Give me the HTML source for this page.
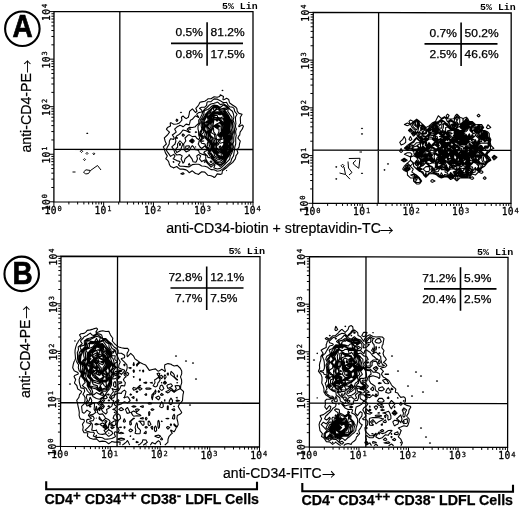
<!DOCTYPE html><html><head><meta charset="utf-8"><title>Figure</title><style>
html,body{margin:0;padding:0;background:#fff}
svg{display:block}
text{font-family:"Liberation Sans",sans-serif;fill:#000}
.tk{font-family:"DejaVu Sans Mono","Liberation Mono",monospace;font-size:9.6px;letter-spacing:0.4px;stroke:#000;stroke-width:0.3px}
.tks{font-family:"DejaVu Sans Mono","Liberation Mono",monospace;font-size:7px;stroke:#000;stroke-width:0.25px}
.pc{font-size:10.6px;stroke:#000;stroke-width:0.25px}
.lin{font-family:"Liberation Mono",monospace;font-size:9.5px;font-weight:bold}
.big{font-size:31px;font-weight:bold;stroke:#000;stroke-width:0.7px}
.ax{font-size:14px;stroke:#000;stroke-width:0.2px}
.arw{font-size:13.6px;font-family:"Noto Sans CJK JP","DejaVu Math TeX Gyre",sans-serif}
.bl{font-size:14.3px;font-weight:bold;stroke:#000;stroke-width:0.25px}
.bl .sp{font-size:13.5px}
</style></head><body><svg width="520" height="508" viewBox="0 0 520 508">
<rect width="520" height="508" fill="#fff"/>
<path d="M54 11.6L253 11.6L253 202.1L53.9 201.8Z" fill="none" stroke="#000" stroke-width="1.3"/>
<path d="M119.83 11.6L119.77 201.9M53.93 149.29L253 149.51" stroke="#000" stroke-width="1.3" fill="none"/>
<path d="M53.9 201.8v4.4M53.9 201.8h-4.4M68.88 201.82v2.6M53.91 187.49h-2.6M77.65 201.84v2.6M53.91 179.11h-2.6M83.87 201.85v2.6M53.92 173.17h-2.6M88.69 201.85v2.6M53.92 168.56h-2.6M92.63 201.86v2.6M53.92 164.8h-2.6M95.96 201.86v2.6M53.92 161.62h-2.6M98.85 201.87v2.6M53.92 158.86h-2.6M101.4 201.87v2.6M53.92 156.43h-2.6M103.67 201.88v4.4M53.92 154.25h-4.4M118.66 201.9v2.6M53.93 139.94h-2.6M127.42 201.91v2.6M53.94 131.56h-2.6M133.64 201.92v2.6M53.94 125.62h-2.6M138.47 201.93v2.6M53.94 121.01h-2.6M142.41 201.93v2.6M53.94 117.25h-2.6M145.74 201.94v2.6M53.95 114.07h-2.6M148.63 201.94v2.6M53.95 111.31h-2.6M151.17 201.95v2.6M53.95 108.88h-2.6M153.45 201.95v4.4M53.95 106.7h-4.4M168.43 201.97v2.6M53.96 92.39h-2.6M177.2 201.99v2.6M53.96 84.01h-2.6M183.42 202v2.6M53.97 78.07h-2.6M188.24 202v2.6M53.97 73.46h-2.6M192.18 202.01v2.6M53.97 69.7h-2.6M195.51 202.01v2.6M53.97 66.52h-2.6M198.4 202.02v2.6M53.97 63.76h-2.6M200.95 202.02v2.6M53.97 61.33h-2.6M203.22 202.02v4.4M53.98 59.15h-4.4M218.21 202.05v2.6M53.98 44.84h-2.6M226.97 202.06v2.6M53.99 36.46h-2.6M233.19 202.07v2.6M53.99 30.52h-2.6M238.02 202.08v2.6M53.99 25.91h-2.6M241.96 202.08v2.6M53.99 22.15h-2.6M245.29 202.09v2.6M54 18.97h-2.6M248.18 202.09v2.6M54 16.21h-2.6M250.72 202.1v2.6M54 13.78h-2.6M253 202.1v4.4M54 11.6h-4.4" stroke="#000" stroke-width="1" fill="none"/>
<text class="tk" x="44.6" y="213.5">10</text><text class="tks" x="57.5" y="211.1">0</text>
<g transform="translate(49.6 211.1) rotate(-90)"><text class="tk" x="0" y="0">10</text><text class="tks" x="12.9" y="-3">0</text></g>
<text class="tk" x="94.4" y="213.6">10</text><text class="tks" x="107.3" y="211.2">1</text>
<g transform="translate(49.6 163.6) rotate(-90)"><text class="tk" x="0" y="0">10</text><text class="tks" x="12.9" y="-3">1</text></g>
<text class="tk" x="144.1" y="213.6">10</text><text class="tks" x="157" y="211.2">2</text>
<g transform="translate(49.7 116) rotate(-90)"><text class="tk" x="0" y="0">10</text><text class="tks" x="12.9" y="-3">2</text></g>
<text class="tk" x="193.9" y="213.7">10</text><text class="tks" x="206.8" y="211.3">3</text>
<g transform="translate(49.7 68.5) rotate(-90)"><text class="tk" x="0" y="0">10</text><text class="tks" x="12.9" y="-3">3</text></g>
<text class="tk" x="243.7" y="213.8">10</text><text class="tks" x="256.6" y="211.4">4</text>
<g transform="translate(49.7 20.9) rotate(-90)"><text class="tk" x="0" y="0">10</text><text class="tks" x="12.9" y="-3">4</text></g>
<path d="M313.25 12.4L511.2 13L511 203.4L312.7 203.3Z" fill="none" stroke="#000" stroke-width="1.3"/>
<path d="M378.62 12.6L378.18 203.33M312.85 150.18L511.06 150.42" stroke="#000" stroke-width="1.3" fill="none"/>
<path d="M312.7 203.3v4.4M312.7 203.3h-4.4M327.62 203.31v2.6M312.74 188.93h-2.6M336.35 203.31v2.6M312.77 180.53h-2.6M342.55 203.32v2.6M312.78 174.57h-2.6M347.35 203.32v2.6M312.8 169.94h-2.6M351.28 203.32v2.6M312.81 166.16h-2.6M354.6 203.32v2.6M312.82 162.97h-2.6M357.47 203.32v2.6M312.82 160.2h-2.6M360.01 203.32v2.6M312.83 157.76h-2.6M362.27 203.33v4.4M312.84 155.58h-4.4M377.2 203.33v2.6M312.88 141.21h-2.6M385.93 203.34v2.6M312.9 132.8h-2.6M392.12 203.34v2.6M312.92 126.84h-2.6M396.93 203.34v2.6M312.93 122.22h-2.6M400.85 203.34v2.6M312.94 118.44h-2.6M404.17 203.35v2.6M312.95 115.24h-2.6M407.05 203.35v2.6M312.96 112.48h-2.6M409.58 203.35v2.6M312.97 110.03h-2.6M411.85 203.35v4.4M312.98 107.85h-4.4M426.77 203.36v2.6M313.02 93.48h-2.6M435.5 203.36v2.6M313.04 85.08h-2.6M441.7 203.37v2.6M313.06 79.12h-2.6M446.5 203.37v2.6M313.07 74.49h-2.6M450.43 203.37v2.6M313.08 70.71h-2.6M453.75 203.37v2.6M313.09 67.52h-2.6M456.62 203.37v2.6M313.1 64.75h-2.6M459.16 203.37v2.6M313.11 62.31h-2.6M461.43 203.38v4.4M313.11 60.12h-4.4M476.35 203.38v2.6M313.15 45.76h-2.6M485.08 203.39v2.6M313.18 37.35h-2.6M491.27 203.39v2.6M313.2 31.39h-2.6M496.08 203.39v2.6M313.21 26.77h-2.6M500 203.39v2.6M313.22 22.99h-2.6M503.32 203.4v2.6M313.23 19.79h-2.6M506.2 203.4v2.6M313.24 17.03h-2.6M508.73 203.4v2.6M313.24 14.58h-2.6M511 203.4v4.4M313.25 12.4h-4.4" stroke="#000" stroke-width="1" fill="none"/>
<text class="tk" x="303.4" y="215">10</text><text class="tks" x="316.3" y="212.6">0</text>
<g transform="translate(308.4 212.6) rotate(-90)"><text class="tk" x="0" y="0">10</text><text class="tks" x="12.9" y="-3">0</text></g>
<text class="tk" x="353" y="215">10</text><text class="tks" x="365.9" y="212.6">1</text>
<g transform="translate(308.5 164.9) rotate(-90)"><text class="tk" x="0" y="0">10</text><text class="tks" x="12.9" y="-3">1</text></g>
<text class="tk" x="402.6" y="215.1">10</text><text class="tks" x="415.5" y="212.7">2</text>
<g transform="translate(308.7 117.2) rotate(-90)"><text class="tk" x="0" y="0">10</text><text class="tks" x="12.9" y="-3">2</text></g>
<text class="tk" x="452.1" y="215.1">10</text><text class="tks" x="465" y="212.7">3</text>
<g transform="translate(308.8 69.4) rotate(-90)"><text class="tk" x="0" y="0">10</text><text class="tks" x="12.9" y="-3">3</text></g>
<text class="tk" x="501.7" y="215.1">10</text><text class="tks" x="514.6" y="212.7">4</text>
<g transform="translate(308.9 21.7) rotate(-90)"><text class="tk" x="0" y="0">10</text><text class="tks" x="12.9" y="-3">4</text></g>
<path d="M61 256.25L260 256.55L259.5 447L60.5 446.4Z" fill="none" stroke="#000" stroke-width="1.3"/>
<path d="M117.55 256.34L117.05 446.57M60.61 402.73L259.61 403.27" stroke="#000" stroke-width="1.3" fill="none"/>
<path d="M60.5 446.4v4.4M60.5 446.4h-4.4M75.48 446.45v2.6M60.54 432.09h-2.6M84.24 446.47v2.6M60.56 423.72h-2.6M90.45 446.49v2.6M60.58 417.78h-2.6M95.27 446.5v2.6M60.59 413.17h-2.6M99.21 446.52v2.6M60.6 409.41h-2.6M102.54 446.53v2.6M60.61 406.23h-2.6M105.43 446.54v2.6M60.61 403.47h-2.6M107.97 446.54v2.6M60.62 401.04h-2.6M110.25 446.55v4.4M60.62 398.86h-4.4M125.23 446.6v2.6M60.66 384.55h-2.6M133.99 446.62v2.6M60.68 376.18h-2.6M140.2 446.64v2.6M60.7 370.24h-2.6M145.02 446.65v2.6M60.71 365.64h-2.6M148.96 446.67v2.6M60.72 361.87h-2.6M152.29 446.68v2.6M60.73 358.69h-2.6M155.18 446.69v2.6M60.74 355.93h-2.6M157.72 446.69v2.6M60.74 353.5h-2.6M160 446.7v4.4M60.75 351.32h-4.4M174.98 446.75v2.6M60.79 337.01h-2.6M183.74 446.77v2.6M60.81 328.64h-2.6M189.95 446.79v2.6M60.83 322.7h-2.6M194.77 446.8v2.6M60.84 318.1h-2.6M198.71 446.82v2.6M60.85 314.33h-2.6M202.04 446.83v2.6M60.86 311.15h-2.6M204.93 446.84v2.6M60.86 308.39h-2.6M207.47 446.84v2.6M60.87 305.96h-2.6M209.75 446.85v4.4M60.88 303.79h-4.4M224.73 446.9v2.6M60.91 289.48h-2.6M233.49 446.92v2.6M60.93 281.11h-2.6M239.7 446.94v2.6M60.95 275.17h-2.6M244.52 446.95v2.6M60.96 270.56h-2.6M248.46 446.97v2.6M60.97 266.8h-2.6M251.79 446.98v2.6M60.98 263.61h-2.6M254.68 446.99v2.6M60.99 260.86h-2.6M257.22 446.99v2.6M60.99 258.43h-2.6M259.5 447v4.4M61 256.25h-4.4" stroke="#000" stroke-width="1" fill="none"/>
<text class="tk" x="51.2" y="458.1">10</text><text class="tks" x="64.1" y="455.7">0</text>
<g transform="translate(56.2 455.7) rotate(-90)"><text class="tk" x="0" y="0">10</text><text class="tks" x="12.9" y="-3">0</text></g>
<text class="tk" x="101" y="458.2">10</text><text class="tks" x="113.8" y="455.8">1</text>
<g transform="translate(56.3 408.2) rotate(-90)"><text class="tk" x="0" y="0">10</text><text class="tks" x="12.9" y="-3">1</text></g>
<text class="tk" x="150.7" y="458.4">10</text><text class="tks" x="163.6" y="456">2</text>
<g transform="translate(56.5 360.6) rotate(-90)"><text class="tk" x="0" y="0">10</text><text class="tks" x="12.9" y="-3">2</text></g>
<text class="tk" x="200.4" y="458.6">10</text><text class="tks" x="213.3" y="456.2">3</text>
<g transform="translate(56.6 313.1) rotate(-90)"><text class="tk" x="0" y="0">10</text><text class="tks" x="12.9" y="-3">3</text></g>
<text class="tk" x="250.2" y="458.7">10</text><text class="tks" x="263.1" y="456.3">4</text>
<g transform="translate(56.7 265.6) rotate(-90)"><text class="tk" x="0" y="0">10</text><text class="tks" x="12.9" y="-3">4</text></g>
<path d="M309.5 256.6L508 257.4L507.6 447.4L309.4 447Z" fill="none" stroke="#000" stroke-width="1.3"/>
<path d="M365.99 256.83L365.81 447.11M309.42 403.15L507.69 403.65" stroke="#000" stroke-width="1.3" fill="none"/>
<path d="M309.4 447v4.4M309.4 447h-4.4M324.32 447.03v2.6M309.41 432.67h-2.6M333.04 447.05v2.6M309.41 424.29h-2.6M339.23 447.06v2.6M309.42 418.34h-2.6M344.03 447.07v2.6M309.42 413.73h-2.6M347.96 447.08v2.6M309.42 409.96h-2.6M351.27 447.08v2.6M309.42 406.77h-2.6M354.15 447.09v2.6M309.42 404.01h-2.6M356.68 447.1v2.6M309.42 401.58h-2.6M358.95 447.1v4.4M309.42 399.4h-4.4M373.87 447.13v2.6M309.43 385.07h-2.6M382.59 447.15v2.6M309.44 376.69h-2.6M388.78 447.16v2.6M309.44 370.74h-2.6M393.58 447.17v2.6M309.44 366.13h-2.6M397.51 447.18v2.6M309.44 362.36h-2.6M400.82 447.18v2.6M309.45 359.17h-2.6M403.7 447.19v2.6M309.45 356.41h-2.6M406.23 447.2v2.6M309.45 353.98h-2.6M408.5 447.2v4.4M309.45 351.8h-4.4M423.42 447.23v2.6M309.46 337.47h-2.6M432.14 447.25v2.6M309.46 329.09h-2.6M438.33 447.26v2.6M309.47 323.14h-2.6M443.13 447.27v2.6M309.47 318.53h-2.6M447.06 447.28v2.6M309.47 314.76h-2.6M450.37 447.28v2.6M309.47 311.57h-2.6M453.25 447.29v2.6M309.47 308.81h-2.6M455.78 447.3v2.6M309.47 306.38h-2.6M458.05 447.3v4.4M309.48 304.2h-4.4M472.97 447.33v2.6M309.48 289.87h-2.6M481.69 447.35v2.6M309.49 281.49h-2.6M487.88 447.36v2.6M309.49 275.54h-2.6M492.68 447.37v2.6M309.49 270.93h-2.6M496.61 447.38v2.6M309.49 267.16h-2.6M499.92 447.38v2.6M309.5 263.97h-2.6M502.8 447.39v2.6M309.5 261.21h-2.6M505.33 447.4v2.6M309.5 258.78h-2.6M507.6 447.4v4.4M309.5 256.6h-4.4" stroke="#000" stroke-width="1" fill="none"/>
<text class="tk" x="300.1" y="458.7">10</text><text class="tks" x="313" y="456.3">0</text>
<g transform="translate(305.1 456.3) rotate(-90)"><text class="tk" x="0" y="0">10</text><text class="tks" x="12.9" y="-3">0</text></g>
<text class="tk" x="349.6" y="458.8">10</text><text class="tks" x="362.6" y="456.4">1</text>
<g transform="translate(305.1 408.7) rotate(-90)"><text class="tk" x="0" y="0">10</text><text class="tks" x="12.9" y="-3">1</text></g>
<text class="tk" x="399.2" y="458.9">10</text><text class="tks" x="412.1" y="456.5">2</text>
<g transform="translate(305.1 361.1) rotate(-90)"><text class="tk" x="0" y="0">10</text><text class="tks" x="12.9" y="-3">2</text></g>
<text class="tk" x="448.8" y="459">10</text><text class="tks" x="461.7" y="456.6">3</text>
<g transform="translate(305.2 313.5) rotate(-90)"><text class="tk" x="0" y="0">10</text><text class="tks" x="12.9" y="-3">3</text></g>
<text class="tk" x="498.3" y="459.1">10</text><text class="tks" x="511.2" y="456.7">4</text>
<g transform="translate(305.2 265.9) rotate(-90)"><text class="tk" x="0" y="0">10</text><text class="tks" x="12.9" y="-3">4</text></g>
<path d="M214.1 177.6L213.3 176.7L211 175.7L207.9 175.3L206.5 173.8L204.8 172.1L201.7 171.8L199.1 173.8L198.6 174.4L196.8 173.8L195.5 173.5L192.3 170.8L189.2 172.7L187.5 170.8L186.1 169.9L183 169.1L179.9 169.1L178.1 167.8L176.8 166.5L173.8 167.8L173.7 168.1L173.6 167.8L170.6 166.5L169.5 164.8L168.7 161.8L167.5 160.1L165.8 158.8L167.3 155.9L165.4 152.9L164.5 149.9L164.4 149L163.3 146.9L164.4 145.9L166.4 144L165.1 141L164.4 138.2L164.3 138L164.4 137.9L167.4 135L167.5 135L169.5 132.1L167.5 130.4L166.4 129.1L167.5 127.6L170.5 126.1L170.2 123.1L170.6 122.7L171.7 123.1L173.7 124.3L176.8 124L178.8 123.2L179.9 122.5L181.9 120.2L181.4 117.2L183 116L184.3 117.2L186.1 118.6L188.4 117.2L189.2 114.2L189.2 113.9L189.6 111.3L192.4 108.9L194.6 111.3L195.5 112.5L197 111.3L195.8 108.3L198.4 105.3L198.6 105L200 102.3L201.7 101.9L204.8 101.2L207.5 99.4L207.9 98.7L211 98.7L214.1 96.8L217.2 97.2L219.7 96.4L220.3 94.8L223.5 96.4L223.5 96.4L223.5 96.7L222.9 99.4L223.5 99.7L224.4 99.4L226.6 98.3L228.7 99.4L229.4 102.4L229.7 103L232.8 105.3L232.9 105.3L235.9 107.3L236.8 108.3L237.3 111.3L239 113.4L242.1 114.2L242.1 114.3L242.1 114.3L240.3 117.3L240.4 120.2L240.6 123.2L239 125.5L238.7 126.2L239 126.7L239.9 126.2L242.1 124.9L243.4 126.2L242.2 129.2L242.1 129.3L240.1 132.1L239.7 135.1L239 135.7L237.9 138.1L239 139.5L240.3 141.1L239.5 144L239.1 147L239 147.1L237 150L237.9 153L235.9 155.9L235.9 156.3L235.3 158.9L233.1 161.9L232.8 162.4L229.7 164.7L229.5 164.9L226.6 167.7L226.4 167.8L223.4 170L222.4 170.8L222 173.8L220.3 174.4L217.2 173.9L215.3 176.7L214.1 177.6M176.8 121.7L176 120.2L176.8 119.1L177.9 120.2L176.8 121.7M174.1 161.8L173.7 161.6L173.1 161.8L173.7 162.3L174.1 161.8M226.6 170.9L226.5 170.8L226.6 170.5L226.6 170.8L226.6 170.9M183 174.4L180.8 173.7L183 172.7L184.1 173.7L183 174.4M217.2 171.3L216.4 170.8L214.1 169.7L211 169.6L208.2 167.8L207.9 167.3L204.8 166.2L201.7 166L199.8 164.8L198.6 164.2L195.5 164.3L192.3 164.6L192.2 164.8L189.2 166.9L186.1 166.6L183 166.3L179.9 166.2L178.4 164.8L179.9 162.2L180.1 161.8L179.9 161.5L176.8 160.6L173.7 159.1L173.1 158.8L173.7 158.3L175 155.9L173.7 154.4L171.2 155.9L170.6 156.4L170.2 155.9L168.1 152.9L167.5 152.2L166.3 149.9L167.4 146.9L167.5 146.9L169.2 144L169.4 141L170.6 138.8L173.7 139.4L174.1 138L173.7 136.8L172.3 135L173.7 134L176.2 132.1L174.6 129.1L176.8 127.1L178.7 126.1L179.9 125.3L181.9 126.1L183 126.7L183.9 126.1L186.1 124.1L189.2 124.9L189.7 123.2L190.4 120.2L192.3 119.3L194.2 117.2L195.5 115.8L198.2 117.2L198.6 117.5L198.7 117.2L198.6 117L196.7 114.2L198.6 112.6L201.7 112L202 111.3L201.7 110.1L199.5 108.3L201.7 107.3L204.8 107.1L206.6 105.3L207 102.4L207.9 101.8L211 101.6L213.5 99.4L214.1 98.9L217.2 99.1L217.8 99.4L220.3 100.8L223.1 102.4L223.5 102.5L225.9 102.4L226.6 102.3L226.6 102.4L228.1 105.3L229.7 106.7L232.8 107.3L234 108.3L234.7 111.3L235.9 112.9L237.1 114.3L235.9 116.2L235.5 117.3L235.5 120.2L235.9 122.9L236 123.2L235.9 123.4L235.4 126.2L235.9 128.3L236.4 129.2L235.9 130.1L235.6 132.1L235.9 134.2L236.3 135.1L235.9 136.9L235.7 138.1L235.7 141.1L235.7 144L234.8 147L234.5 150L234 153L233.5 155.9L232.8 157L231.7 158.9L230.8 161.9L229.7 162.9L227.4 164.9L226.6 165.7L224.2 167.8L223.4 168.4L220.3 170.6L219.5 170.8L217.2 171.3M205 161.9L204.8 161.6L204.3 161.9L204.8 162.4L205 161.9M220.3 168.4L217.2 169L214.1 167.9L213.8 167.8L214.1 167.4L215 164.8L214.1 164.6L213.7 164.8L211 167.2L208.9 164.8L207.9 163.9L206.2 161.9L204.8 160L201.7 161.6L199.5 158.9L200.7 155.9L198.6 154.5L196.7 155.9L197.5 158.9L196.3 161.8L195.5 162.3L193.1 161.8L192.3 159.8L192 158.9L189.7 155.9L189.2 154.6L188.6 155.9L186.1 157.8L185 158.9L184.2 161.8L183 163.2L182.5 161.8L181.1 158.9L182.2 155.9L179.9 154.5L176.8 155L174.8 152.9L173.9 149.9L173.7 149.4L171.8 146.9L173.7 145.1L175 144L175.9 141L175.3 138L176.8 135.7L178.2 135.1L179.9 133.8L181.4 132.1L183 130L186.1 130.7L188.5 132.1L189.2 132.5L190.3 132.1L189.2 131.7L187.2 129.1L189.2 127.4L192.3 127.5L195.5 126.7L195.6 126.1L198.6 123.5L198.8 123.2L198.7 120.2L200.6 117.2L201.7 115L202 114.2L203.1 111.3L204.8 108.9L206.2 108.3L207.9 106.5L209 105.3L211 104L214.1 103.2L216.6 102.4L217.2 102L218 102.4L220.3 104.6L223.5 103.8L225.8 105.3L226.6 105.7L229.5 108.3L229.7 109.2L232.4 111.3L232.8 112.3L233.5 114.3L233.9 117.3L233.1 120.2L234.2 123.2L233.8 126.2L234.5 129.2L234.4 132.1L234.1 135.1L233.7 138.1L233.8 141.1L232.9 144L233.5 147L232.8 150L232.8 150.1L231.8 153L230.2 155.9L229.7 158.9L229.7 159.1L227.2 161.9L226.6 162.4L224.3 164.9L223.4 165.6L221.1 167.8L220.3 168.4M193.1 141L192.3 140.2L191.3 141L192.3 141.7L193.1 141M189.2 165.3L188.4 164.8L189.2 163.4L190 164.8L189.2 165.3M220.3 166.5L218.4 164.9L217.2 164.3L214.1 162.8L211.3 164.8L211 165.1L210.7 164.8L207.9 162.4L207.5 161.9L205.7 158.9L205.8 155.9L204.8 154.9L201.7 154.1L199.4 152.9L198.6 150.6L197.3 149.9L195.5 149.8L193.6 147L192.3 145.7L191.2 147L189.6 149.9L189.2 150.4L186.1 151.9L184.3 149.9L184 147L183.6 144L185.8 141L185 138L186.1 137L188.1 135.1L189.2 134.7L189.9 135.1L192.3 136.6L195.5 136.3L196.5 138L198.6 139.6L199.8 138.1L198.7 135.1L198.6 132.1L198.6 131.2L198 129.1L198 126.1L198.6 125.6L200 123.2L200.3 120.2L201.7 118.3L202.4 117.2L203.8 114.3L204.2 111.3L204.8 110.4L207.9 109.5L209.6 108.3L211 106.8L213.4 105.3L214.1 105.1L215.6 105.3L217.2 105.5L220.3 107.5L223 105.3L223.5 105.2L223.7 105.3L226.6 106.7L228.4 108.3L227.7 111.3L229.7 114.1L229.8 114.3L232 117.3L231.9 120.2L232.6 123.2L232.3 126.2L232.8 128.8L232.9 129.2L233.3 132.1L232.8 133.8L232.3 135.1L232.3 138.1L231.9 141.1L231.9 144L232.1 147L232 150L230.3 153L229.7 154L228.8 155.9L226.7 158.9L226.6 159L225.4 161.9L223.4 163.9L222.1 164.9L220.3 166.5M189.2 129.4L189 129.1L189.2 128.9L190.7 129.1L189.2 129.4M195.5 132.7L195.3 132.1L195.5 131.9L196.7 132.1L195.5 132.7M183 136.5L182.1 135.1L183 133.9L184.5 135.1L183 136.5M176.8 138.7L176.5 138L176.8 137.6L177.5 138L176.8 138.7M179.9 150.8L176.8 152.4L175.5 149.9L176.8 147.8L177.7 147L177.5 144L179.7 141L179.9 140.9L180.2 141L182.9 144L181.6 147L180.7 149.9L179.9 150.8M194.4 141L192.3 138.8L189.5 141L192.3 143L194.4 141M223.4 162.6L220.3 164.8L217.2 163.4L214.8 161.9L214.1 161.3L211.7 158.9L211 158L207.9 157.4L207.4 155.9L204.8 153.3L203.8 152.9L204.8 151.4L207.9 150.1L207.9 150L207.9 149.9L205.5 147L204.8 145.9L203.5 147L201.7 148.5L200 147L198.6 144.6L198.1 144L198.6 143.4L199.2 141L201.7 138.3L202.2 138.1L201.7 137.7L199.7 135.1L200 132.1L201.7 129.2L201.7 129.1L201.7 128.4L201.2 126.2L201.2 123.2L201.7 121.1L201.9 120.2L204.1 117.2L204.8 115.7L205.4 114.3L207.9 111.5L208.2 111.3L211 109.2L211.5 108.3L214.1 106L217.2 106.5L219.5 108.3L220.3 109L223.5 108.4L225.8 111.3L226.6 112.7L227.9 114.3L229.5 117.2L229.7 117.8L230.8 120.2L231.5 123.2L230.9 126.2L231.2 129.2L232.1 132.1L231.1 135.1L231.6 138.1L230 141.1L230.9 144L230.6 147L231.1 150L229.7 152.2L229 153L227.7 155.9L226.6 157.5L225.6 158.9L224.2 161.9L223.4 162.6M226.6 109.8L223.7 108.3L226.6 107.7L227.3 108.3L226.6 109.8M179.9 145.8L179.4 144L179.9 143.4L180.5 144L179.9 145.8M189.2 147.4L186.1 149.6L185.6 147L186.1 146L189.2 145.8L189.5 147L189.2 147.4M195.5 147.1L195.4 147L195.5 146.8L195.7 147L195.5 147.1M211 162.5L210.1 161.9L211 160.9L212.1 161.9L211 162.5M220.3 163L217.2 162.4L216.4 161.9L214.1 160.1L212.9 158.9L211 156.5L209.9 155.9L208 152.9L208.8 150L207.9 148.4L206.7 147L204.9 144L204.8 143.9L201.7 143.2L200.3 141L201.7 139.5L204.1 138.1L201.7 136.5L200.6 135.1L201.3 132.1L201.7 131.5L202.4 129.1L202.6 126.2L202.4 123.2L203.3 120.2L204.8 118.2L205.3 117.2L206.7 114.3L207.9 112.9L210.3 111.3L211 110.7L212.4 108.3L214.1 106.8L217.2 107.5L218.3 108.3L220.3 110L223.5 109.9L224.5 111.3L226.3 114.3L226.6 114.5L228.7 117.2L229.7 120.1L229.7 120.2L230.3 123.2L229.7 125.6L229.6 126.2L229.6 129.2L229.7 129.3L230.8 132.1L229.9 135.1L230.8 138.1L229.7 140L229 141.1L229.7 143.3L229.9 144L229.7 145.3L229.4 147L229.7 148L230.2 150L229.7 150.9L227.8 153L226.6 155.9L226.6 156L224.6 158.9L223.4 161L222.2 161.9L220.3 163M214.1 111.2L213.3 108.3L214.1 107.6L216.8 108.3L214.1 111.2M223.4 159L220.3 161.3L217.2 161L214.2 158.9L214.1 158.8L211.8 155.9L211 154.8L209.4 152.9L209.8 150L208 147L207.9 146.7L207.2 144L207.9 142L208 141L207.9 140.9L205.4 138.1L204.8 137L201.7 135.3L201.5 135.1L201.7 134.5L203.9 132.1L203.1 129.1L203.8 126.2L203.5 123.2L204.7 120.2L204.8 120.1L206.4 117.2L207.9 114.3L208 114.3L211 112.3L214.1 111.3L214.3 111.3L217.2 109.1L220.3 111L222.5 111.3L223.5 111.5L225.3 114.3L226.6 115.4L228 117.2L228.9 120.2L229.3 123.2L228.8 126.2L228.8 129.2L229.6 132.1L228.6 135.1L229.7 137L230 138.1L229.7 138.7L228.2 141.1L228.8 144L228.6 147L229.1 150L226.6 152.9L226.5 153L226 155.9L223.5 158.9L223.4 159M201.7 141.5L201.4 141L201.7 140.7L203.8 141L201.7 141.5M220.3 159.4L217.2 159.1L217 158.9L214.1 157.2L213.1 155.9L211 153.1L210.9 152.9L210.7 150L209.9 147L209 144L208.9 141L207.9 139.8L206.4 138.1L204.8 135.2L204.5 135.1L204.8 134.8L205.4 132.1L204.8 131L203.9 129.1L204.8 126.4L204.9 126.2L204.8 125L204.6 123.2L204.8 122.7L207.9 120.5L208.2 120.2L207.9 119.3L207.4 117.2L207.9 116.3L210.3 114.3L211 113.8L214.1 112.1L217.2 111.7L220.3 111.7L223.5 113L224.3 114.3L226.6 116.4L227.2 117.2L228 120.2L228.5 123.2L228.1 126.2L228 129.2L228.8 132.1L227.2 135.1L229.1 138.1L227.4 141.1L227.5 144L227.8 147L227.5 150L226.6 151.1L225.5 153L225.4 155.9L223.4 158.2L221.1 158.9L220.3 159.4M223.4 157.5L220.3 158.4L217.2 157.5L214.7 155.9L214.1 153.9L213.8 152.9L211.6 150L211.4 147L211 145.5L210.4 144L209.7 141L207.9 138.7L207.3 138.1L206.6 135.1L206.4 132.1L204.8 129.6L204.6 129.1L204.8 128.5L205.6 126.2L206.2 123.2L207.9 121.8L209.5 120.2L208.4 117.2L211 114.9L211.9 114.3L214.1 112.9L217.2 112.3L220.3 112.3L223.3 114.3L223.5 114.4L226.5 117.2L226.6 117.6L227.2 120.2L227.8 123.2L227.4 126.2L227.1 129.2L228 132.1L226.6 134.4L226.2 135.1L226.6 135.9L228 138.1L226.6 141.1L226.6 142L226.5 144L226.6 144.9L227 147L226.6 148.6L226.2 150L224.4 153L224.8 155.9L223.4 157.5M223.4 156.8L220.3 157.6L217.2 155.9L217.2 155.9L214.8 152.9L214.1 152L212.5 150L212.2 147L211.6 144L211 142.4L210.6 141L208.6 138.1L208.1 135.1L207.9 134.2L207.3 132.1L207.2 129.1L206.3 126.2L207.9 123.2L207.9 123.2L210.7 120.2L209.5 117.2L211 115.8L213.1 114.3L214.1 113.6L217.2 113L220.3 112.9L222.4 114.3L223.5 115.2L225.7 117.2L226.3 120.2L226.6 121.3L227 123.2L226.6 126.2L226.6 126.9L226.3 129.1L226.6 130L227.2 132.1L226.6 133.2L225.6 135.1L226.6 137.6L226.9 138.1L226.6 138.8L225.9 141.1L225.9 144L226 147L225.4 150L223.4 152.8L223.3 153L223.4 153.2L224.2 155.9L223.4 156.8M223.4 156.1L220.3 156.9L218.6 155.9L217.2 155.1L215.5 152.9L214.1 150.9L213.4 150L213 147L212.7 144L211.7 141L211 139.2L210.4 138.1L208.9 135.1L208.2 132.1L208.9 129.1L207.9 128L207 126.2L207.9 124.5L208.8 123.2L211 120.9L211.5 120.2L211 118.4L210.5 117.2L211 116.8L214.1 114.5L214.7 114.3L217.2 113.7L220.3 113.5L221.5 114.3L223.5 115.9L224.9 117.2L225.5 120.2L226.2 123.2L225.9 126.2L225.6 129.1L226.4 132.1L224.9 135.1L226 138.1L225.2 141.1L225.4 144L225 147L224.5 150L223.5 151.5L222.3 153L223.4 155.4L223.6 155.9L223.4 156.1M220.3 115L218 114.3L220.3 114.1L220.5 114.3L220.3 115M220.3 156.2L219.9 155.9L217.2 154.2L216.2 152.9L214.3 150L214.1 148.9L213.8 147L213.8 144L213.2 141L212.1 138.1L211 137.2L209.7 135.1L209.1 132.1L210.1 129.1L207.9 126.5L207.7 126.2L207.9 125.9L209.7 123.2L211 121.9L212.1 120.2L211.7 117.2L214.1 115.5L217.2 115.4L217.7 117.2L220.3 118L221.8 117.2L223.5 116.7L224 117.2L224.6 120.2L225.3 123.2L225.1 126.2L224.8 129.1L225.4 132.1L224.2 135.1L225.2 138.1L224.5 141.1L224.9 144L224 147L223.6 150L223.5 150.3L221.2 153L221.2 155.9L220.3 156.2M217.2 153.4L216.9 152.9L215 150L215.2 147L214.7 144L214.8 141L214.1 139.5L213.6 138.1L211 136L210.4 135.1L210 132.1L211 129.7L211.3 129.1L211 128L209.9 126.2L210.6 123.2L211 122.8L212.7 120.2L213.2 117.2L214.1 116.6L215.4 117.2L217.2 117.8L220.3 119L223.5 118.6L223.7 120.2L224.5 123.2L224.4 126.2L224.1 129.1L224.4 132.1L223.5 135.1L224.4 138.1L223.8 141.1L224.4 144L223.5 146.4L223 147L222.5 150L220.3 152.7L219.6 152.9L217.2 153.4M220.7 141L220.3 141L220.2 141L220.3 141.2L220.7 141M220.3 151.2L217.2 152.4L215.8 150L216.7 147L215.7 144L216.6 141L214.9 138.1L214.6 135.1L214.1 134.4L211 132.5L211 132.1L211 132L212.5 129.1L211.7 126.2L211.9 123.2L213.3 120.2L214.1 117.9L217.2 118.5L220.3 120.1L220.9 120.2L223.5 122.4L223.7 123.2L223.6 126.2L223.5 128L223.3 129.1L223.4 132.1L222.9 135.1L223.5 137.6L223.6 138.1L223.5 138.7L220.3 139.8L218 141L220.3 143.3L223.5 142.3L223.8 144L223.5 145L221.9 147L221.3 150L220.3 151.2M220.3 138.7L217.2 139.8L216.2 138.1L216.1 135.1L214.1 132.4L213.7 132.1L213.6 129.1L212.9 126.2L213.4 123.2L213.9 120.2L214.1 119.6L217.2 119.2L219.2 120.2L220.3 121L222.7 123.2L222.4 126.2L222.2 129.1L222.3 132.1L222.4 135.1L221.6 138.1L220.3 138.7M217.2 145.5L216.6 144L217.2 142.5L218.8 144L217.2 145.5M220.3 149.2L219.1 147L220.3 145.8L220.8 147L220.3 149.2M217.2 151.2L216.5 150L217.2 148.2L219.9 150L217.2 151.2M217.2 121.4L215.9 120.2L217.2 119.9L217.9 120.2L217.2 121.4M220.3 137.6L217.5 135.1L218.9 132.1L219 129.1L217.2 128.6L214.1 126.5L214 126.2L214.1 125.8L217.2 123.7L218.4 123.2L220.3 122L221.7 123.2L221.1 126.2L221.1 129.1L221.2 132.1L221.8 135.1L220.3 137.6M220.3 124.4L219.9 123.2L220.3 122.9L220.6 123.2L220.3 124.4M217.2 128L214.9 126.2L217.2 124.3L220 126.2L217.2 128M220.3 136.6L218.6 135.1L220.3 132.5L221.2 135.1L220.3 136.6M217.2 127.4L215.7 126.2L217.2 124.9L219 126.2L217.2 127.4M220.3 135.6L219.8 135.1L220.3 134.3L220.6 135.1L220.3 135.6M217.2 126.8L216.4 126.2L217.2 125.5L218.1 126.2L217.2 126.8" stroke="#000" stroke-width="1.1" fill="none" stroke-linejoin="round"/>
<path d="M447.6 118.4L446.2 115.5L447.6 114.1L449.1 115.5L447.6 118.4M456.8 181L453.8 178.1L453.7 178L453.6 178.1L450.6 179.5L449.1 178.1L447.5 177L444.4 177L441.3 178L438.2 176.5L436.8 175.1L435.1 174.3L432 173.5L428.9 174L428.1 175.1L425.8 177.3L423.6 175.1L422.8 173.5L421.3 172.1L419.7 171.6L416.6 169.1L419.7 166.6L420.7 166.1L419.7 163.1L420.5 160.2L419.7 158.6L416.7 157.2L416.6 157.1L414.1 154.2L413.7 151.2L413.5 151.2L410.4 149.7L407.3 150.4L404.3 148.2L407.3 145.3L407.4 145.3L410.4 143.1L412 142.3L413.5 140.9L414.6 139.3L416.6 137.4L418.6 139.3L419.7 140.4L421.3 139.3L419.7 138.5L417.4 136.3L416.7 133.4L419.7 131.4L420.8 130.4L420.6 127.4L422.8 124.5L425.9 127.4L424.8 130.4L425.9 131.4L426.3 130.4L426.1 127.4L429 126L430.7 124.4L432.1 123L435.2 121.5L435.4 121.5L436.9 118.5L438.3 115.7L441.3 118.5L441.4 118.5L441.5 118.5L444.5 116.6L447.5 118.5L447.6 118.7L450.7 119.1L453.8 118.7L453.9 118.5L455.4 115.5L456.9 114.1L458.4 115.5L460 117.1L462.9 118.5L463 121.5L463.1 121.5L463.1 121.5L463.3 118.5L466.2 117.1L467.7 118.5L469.3 121.5L469.3 121.5L472.4 121.6L475.4 124.5L475.5 124.7L478.6 124.5L481.7 124.6L483.7 127.5L481.7 130.4L481.6 130.5L481.7 130.5L484.8 130.5L487.9 132L489.3 133.5L489.3 136.4L490.9 139.4L490.3 142.4L490.9 145.4L490.9 145.5L493.9 148.3L490.9 149.8L489.8 151.3L487.8 153.2L487 154.3L487.8 155.8L489.3 157.3L490.9 160.2L487.8 162.4L487 163.2L484.7 166.1L484.6 166.2L481.6 168.1L481.1 169.2L478.5 172.1L478.4 172.1L475.4 175L472.3 174.1L471.2 175.1L469.2 178L466.1 178L463 178L459.9 178L459.8 178.1L456.8 181M478.6 117L477.1 115.6L478.6 114.2L480.1 115.6L478.6 117M410.5 124.3L409 121.4L410.5 120L413.4 121.4L410.5 124.3M416.6 133.2L415.2 130.4L413.5 128.8L412.1 127.4L410.5 124.4L413.6 121.5L413.6 121.4L416.7 119.1L419.7 121.4L419.8 121.6L422.7 124.4L419.7 125.8L418.7 127.4L418.1 130.4L416.6 133.2M407.4 125.8L404.4 124.4L407.4 123L410.3 124.4L407.4 125.8M435.2 130.4L435.3 127.4L435.2 127.4L435.2 127.4L435.2 130.4L435.2 130.4L435.2 130.4M487.9 128.9L486.4 127.5L487.9 124.7L490.8 127.5L487.9 128.9M410.4 132.3L408.4 130.4L410.4 128.4L412.5 130.4L410.4 132.3M413.5 136.3L411.3 133.3L413.5 131.1L416.6 133.4L413.5 136.3M404.2 143.7L401.1 145.1L399.7 142.3L401.1 140.9L402.8 139.3L404.2 136.5L405.7 139.3L405.7 142.3L404.2 143.7M410.4 140.7L409 139.3L410.4 136.5L411.9 139.3L410.4 140.7M484.8 139.4L484.7 139.4L484.7 139.4L484.7 139.4L484.8 139.4M401.1 152.6L399.6 151.2L401.1 148.4L402.6 151.2L401.1 152.6M419.7 151.2L419.7 151.2L419.6 151.2L419.7 151.3L419.7 151.2M410.4 157L407.3 155.6L404.4 154.2L407.3 152.8L410.4 152.8L411.9 154.2L410.4 157M416.6 169L413.6 166.1L413.5 163.1L413.5 163L410.5 160.2L410.5 157.2L413.5 155.8L416.4 157.2L416.6 157.3L418.1 160.2L419.6 163.1L418 166.1L416.6 169M494 160.2L492 157.3L494 155.3L497 157.3L494 160.2M404.2 162.1L401.2 160.1L404.2 158.2L407.2 160.2L404.2 162.1M410.4 166L407.4 163.1L410.4 160.3L413.3 163.1L410.4 166M413.4 178L410.4 177.9L407.4 175L407.4 172.1L407.3 172L404.2 170.5L402.7 169.1L404.2 166.3L404.3 166.1L407.3 163.2L410.3 166.1L410.4 166.3L413.3 169.1L411.8 172.1L413.5 173.1L416.5 175.1L413.4 178M432.1 169.1L432.1 169.1L432 169.1L432.1 169.2L432.1 169.1M456.8 172.1L456.8 172.1L456.8 172.1L456.8 172.2L456.8 172.1M481.6 173.5L478.7 172.1L481.6 170.7L483.1 172.1L481.6 173.5M419.6 183.9L416.5 183.9L413.5 181L413.5 178L416.6 175.1L419.6 178L419.6 178.1L421.7 181L419.6 183.9M472.3 179.5L469.4 178.1L472.3 176.7L473.8 178.1L472.3 179.5M484.7 179.5L483.2 178.1L484.7 176.7L486.2 178.1L484.7 179.5M432 182.4L430.6 181L432 179.6L435 181L432 182.4M469.2 176.4L466.1 177.4L463 177.5L459.9 177L457 175.1L457.3 172.1L456.8 171.6L455.7 172.1L456.7 175.1L453.7 177.2L450.6 178L447.5 176L444.4 176L441.3 177.2L438.3 175.1L438.2 174.9L435.1 173.5L432.2 172.1L432.7 169.1L432.1 168.3L430.9 169.1L431.7 172.1L428.9 173L427.3 175.1L425.8 176.5L424.4 175.1L423.1 172.1L422.8 171.8L419.7 171L417.2 169.1L419.7 167.2L421.8 166.1L420.5 163.1L421.3 160.2L419.8 157.2L419.7 157.1L416.6 156.4L414.8 154.2L416.6 151.3L419.7 151.9L420.5 151.2L419.7 150.1L416.6 151.1L413.5 150.4L410.5 148.2L410.4 148.1L408.5 145.3L410.4 143.8L413.5 142.6L413.8 142.3L415.7 139.3L416.6 138.4L417.5 139.3L419.7 141.4L422.8 139.4L422.9 139.3L422.8 139.2L419.7 137.8L418.3 136.3L418.3 133.4L419.7 132.5L422.5 133.4L422.8 133.5L423.1 133.4L425.9 132.5L426.7 130.4L429 127.5L429.2 127.4L432.1 124.6L434.1 127.4L434.7 130.4L435.2 131.5L435.7 130.4L436.1 127.4L435.2 126.6L432.2 124.4L435.2 122.3L438.3 121.5L438.4 121.5L441.4 119.2L443.1 118.5L444.5 117.6L445.9 118.5L447.3 121.5L447.6 121.8L447.7 121.5L450.7 119.8L453.7 121.5L453.8 121.6L454.1 121.5L454.9 118.5L456.9 115.7L459.8 118.5L459.7 121.5L459.9 124.5L460 124.6L460 124.5L463.1 122L466.1 124.5L466.2 124.6L466.2 124.5L469.3 122.1L472.4 122.2L474.8 124.5L475.3 127.5L475.5 127.5L475.6 127.5L478.6 125.3L481.7 126.2L482.6 127.5L481.7 128.8L481.2 130.5L481.7 132.1L484.8 131.1L487.8 133.5L487.8 136.4L484.7 138.9L481.7 136.4L481.7 136.1L481.6 136.4L481.7 136.5L484.1 139.4L484.7 140.2L485.9 139.4L487.8 136.6L489.8 139.4L489.6 142.4L490.3 145.4L490.6 148.3L488.8 151.3L487.8 152.2L486.2 154.3L487.7 157.3L487.8 157.4L489.8 160.2L487.8 161.7L486.2 163.2L484.7 165.1L481.8 163.2L481.6 162.9L481.5 163.2L481.6 163.5L483 166.2L481.6 167.1L480.7 169.2L478.5 171.6L475.5 169.2L475.4 169L475.3 169.2L475.1 172.1L472.3 173L470.1 175.1L469.2 176.4M416.6 130.1L413.9 127.4L413.5 127.1L412.2 124.4L413.6 123.1L414.4 121.4L416.7 119.7L418.9 121.4L419.6 124.4L417.6 127.4L416.6 130.1M466.2 124.4L463.9 121.5L466.2 118.6L468.4 121.5L466.2 124.4M422.8 133.1L421.9 130.4L421.4 127.4L422.8 125.5L424.8 127.4L423.8 130.4L422.8 133.1M410.4 131.3L409.5 130.4L410.4 129.5L411.4 130.4L410.4 131.3M413.5 135.2L412.1 133.3L413.5 131.9L415.5 133.4L413.5 135.2M407.3 149.6L405.4 148.2L407.3 146.3L410.3 148.2L407.3 149.6M494 158.6L493.1 157.3L494 156.4L495.4 157.3L494 158.6M404.2 161L402.8 160.1L404.2 159.3L405.6 160.1L404.2 161M416.6 166L414.6 163.1L416.6 160.3L418.5 163.1L416.6 166M407.3 171.2L404.3 169.1L405.9 166.1L407.3 164.8L408.7 166.1L410.3 169.1L407.3 171.2M466.2 169.1L466.1 169.1L466 169.1L466.1 169.4L466.2 169.1M413.5 176.4L410.7 175L413.5 174.2L414.8 175.1L413.5 176.4M419.6 182.4L416.5 182.4L415.1 181L414.6 178L416.6 176.1L418.5 178L419.6 179.7L420.6 181L419.6 182.4M456.8 179.4L455.4 178.1L456.8 175.4L458.2 178.1L456.8 179.4M456.9 121.1L456 118.5L456.9 117.3L458.2 118.5L456.9 121.1M416.6 127.2L413.8 124.4L415.2 121.4L416.7 120.3L418.1 121.4L418.6 124.4L416.6 127.2M466.1 176.8L463 177L459.9 175.9L458.6 175.1L457.7 172.1L456.8 171.2L454.6 172.1L455.6 175.1L453.7 176.5L450.6 177.4L447.6 175.1L447.5 174.9L444.4 174.6L444.2 175.1L441.3 176.5L439.4 175.1L438.2 173.4L435.1 172.7L433.8 172.1L433.4 169.1L432.1 167.5L429.2 166.1L429 166L426 163.1L425.9 163.1L425.6 163.1L422.8 165.9L421.3 163.1L422.1 160.2L421.5 157.2L419.7 156.3L416.6 155.6L415.4 154.2L416.6 152.4L419.7 152.5L421.4 151.2L419.7 149.1L416.6 150.1L413.5 149.6L411.6 148.2L413.5 145.5L414 145.3L416.6 142.7L419.7 142.5L419.8 142.3L422.8 139.8L423.3 139.3L422.8 138.2L419.7 137L419.1 136.3L419.7 133.8L422.8 134.5L425.9 133.8L426.4 133.4L427.1 130.4L429 128L430.8 127.4L432.1 126.2L433 127.4L434.1 130.4L435.2 132.5L436.2 130.4L436.9 127.4L435.2 125.8L433.3 124.4L435.2 123.1L438.3 122.3L439.2 121.5L441.4 119.8L444.4 121.5L444.5 121.6L447.5 124.5L447.6 124.6L450.6 127.4L450.7 127.5L451.2 127.4L450.7 127.2L447.8 124.5L448.8 121.5L450.7 120.4L452.6 121.5L453.8 122.2L456.9 121.7L458.8 124.5L456.9 127.2L456.4 127.5L456.9 127.6L457.4 127.5L460 126.2L460.6 124.5L463.1 122.4L465.6 124.5L466.2 126.2L466.9 124.5L469.3 122.6L472.4 122.8L474.1 124.5L473.7 127.5L475.5 127.9L476.7 127.5L478.6 126.1L481.4 127.5L480.8 130.5L481.4 133.4L480.8 136.4L481.7 137.3L483.4 139.4L484.7 141L487 139.4L487.8 138.1L488.7 139.4L489 142.4L489.6 145.4L487.8 148.2L484.7 148.2L484.7 148.3L484.7 148.8L487.4 151.3L485.4 154.3L486.6 157.3L487.8 159L488.7 160.2L487.8 160.9L485.4 163.2L484.7 164.1L483.4 163.2L481.9 160.2L481.9 157.3L481.6 157.2L481.4 157.3L478.5 160L478.4 160.2L478.5 160.4L480.7 163.2L481.1 166.2L480.2 169.2L478.5 171.1L476.1 169.2L475.4 167.4L474.2 169.2L472.3 171.9L472.2 172.1L469.2 175L466.3 172.1L466.8 169.1L469.2 166.3L469.7 166.2L472.3 163.6L472.8 163.2L472.3 163.1L472.2 163.2L469.2 166.1L469.1 166.2L466.1 168.5L464.9 169.1L465.7 172.1L466.1 172.3L469.1 175.1L466.1 176.8M466.2 123.4L464.8 121.5L466.2 119.7L467.6 121.5L466.2 123.4M422.8 129.9L422.2 127.4L422.8 126.6L423.7 127.4L422.8 129.9M413.5 134.2L412.9 133.3L413.5 132.7L414.4 133.3L413.5 134.2M441.9 133.4L441.4 133.2L441.3 133.4L441.4 133.5L441.9 133.4M457 133.4L456.9 133.3L456.8 133.4L456.9 133.5L457 133.4M484.7 138.5L482.2 136.4L481.8 133.4L484.8 131.8L487 133.5L487.3 136.4L484.7 138.5M478.8 142.4L478.5 142.3L478.5 142.4L478.5 142.5L478.8 142.4M410.4 146.5L409.5 145.3L410.4 144.6L413 145.3L410.4 146.5M407.3 148.9L406.4 148.2L407.3 147.4L408.6 148.2L407.3 148.9M416.6 164.4L415.7 163.1L416.6 161.9L417.5 163.1L416.6 164.4M463.1 163.2L463 163.1L463 163.2L463 163.3L463.1 163.2M407.3 170.5L405.4 169.1L407.3 166.3L409.2 169.1L407.3 170.5M419.7 170.5L417.9 169.1L419.7 167.7L422.6 169.1L419.7 170.5M428.9 171.6L425.9 171.6L423.2 169.1L425.9 166.6L429 166.6L429.8 169.1L428.9 171.6M444.5 169.1L444.4 168.9L441.3 169L441.1 169.1L441.3 169.6L444.4 169.6L444.5 169.1M425.8 175.7L425.2 175.1L425.8 172.5L426.5 175.1L425.8 175.7M416.5 180.6L415.7 178L416.5 177.2L417.4 178L416.5 180.6M416.6 125.6L415.4 124.4L416 121.4L416.7 121L417.3 121.4L417.5 124.4L416.6 125.6M453.7 175.7L450.6 176.8L448.5 175.1L447.5 173.3L445.1 172.1L445.1 169.1L444.4 167.3L441.3 167.9L439.5 169.1L438.2 171.5L435.1 171.8L434 169.1L432.1 166.7L430.8 166.1L429 164.9L427.1 163.2L425.9 162.7L422.9 160.2L423.1 157.2L422.8 157.1L419.7 155.5L416.6 154.8L416.1 154.2L416.6 153.4L419.7 153.1L422.2 151.2L419.8 148.2L419.7 147.7L417.2 145.3L419.7 144.1L420.3 142.3L422.8 140.3L423.7 139.3L425.9 136.4L426.1 136.3L429 133.5L429.3 133.4L429 133.2L427.6 130.4L429 128.5L432.1 127.6L433.6 130.4L434.9 133.4L435.2 133.5L435.4 133.4L436.6 130.4L437.7 127.4L435.2 125L434.4 124.4L435.2 123.9L438.3 123.1L440 121.5L441.4 120.4L443.3 121.5L444.5 122.4L446.7 124.5L447.6 125.2L450 127.4L450.7 128L453.8 127.5L456.9 128.6L459.7 130.4L456.9 132.2L456.4 133.4L456.9 134.1L457.5 133.4L460 130.6L463.1 130.6L463.3 130.4L466.2 127.7L466.3 127.5L467.5 124.5L469.3 123.1L472.4 123.4L473.5 124.5L472.4 127.2L472.2 127.5L472.4 128.1L475.5 128.3L477.7 127.5L478.6 126.9L479.8 127.5L480.4 130.5L479.8 133.4L480 136.4L481.7 138.1L482.8 139.4L484.7 141.8L487.8 140L488.3 142.4L488.9 145.4L487.8 147.1L484.7 147.1L484.3 148.3L481.6 151.2L481.5 151.3L481.6 151.4L484.6 154.3L481.6 156.5L479.8 157.3L478.5 158.4L477.9 160.2L475.4 163.1L472.3 162L471.4 163.2L469.2 165.3L468.3 166.2L466.1 167.8L463.9 169.1L463 171.5L460.5 169.1L459.9 168.9L459.8 169.1L456.8 170.8L453.7 171.5L453.1 172.1L453.7 172.7L454.5 175.1L453.7 175.7M456.9 125.7L453.8 127.3L450.7 125.7L449.5 124.5L449.9 121.5L450.7 121L451.5 121.5L453.8 122.8L456.9 123.3L457.7 124.5L456.9 125.7M466.2 122.3L465.6 121.5L466.2 120.7L466.8 121.5L466.2 122.3M463.1 130.3L460.1 127.5L461.1 124.5L463.1 122.9L465.1 124.5L466 127.5L463.1 130.3M444.6 133.4L444.5 133.2L441.4 132.2L440.7 133.4L441.4 134L444.5 133.6L444.6 133.4M484.7 138L482.8 136.4L482.9 133.4L484.8 132.4L486.1 133.5L486.7 136.4L484.7 138M422.8 137.1L420.4 136.3L422.8 135.5L425.3 136.3L422.8 137.1M438.3 142.3L438.3 142.2L437.7 142.3L438.3 142.4L438.3 142.3M480.4 142.4L478.5 141.7L478.1 142.4L478.5 143.3L480.4 142.4M416.6 149L413.5 148.8L412.7 148.2L413.5 147.1L416.6 145.9L419.1 148.2L416.6 149M429.1 157.2L429 156.9L428.7 157.2L429 157.5L429.1 157.2M444.5 157.2L444.5 157.1L444.4 157.2L444.5 157.3L444.5 157.2M484.7 162.6L483.5 160.2L483.5 157.3L484.7 154.9L485.5 157.3L487.2 160.2L484.7 162.6M438.3 160.2L438.3 159.9L438.1 160.2L438.3 160.3L438.3 160.2M453.8 160.2L453.7 160.1L453.7 160.2L453.7 160.8L453.8 160.2M422.8 164.3L422.2 163.1L422.8 160.8L424 163.1L422.8 164.3M463.5 163.2L463 162.6L462.7 163.2L463 164.4L463.5 163.2M478.5 165.9L475.7 163.2L478.5 161.4L479.9 163.2L478.5 165.9M407.3 169.7L406.4 169.1L407.3 167.9L408.1 169.1L407.3 169.7M419.7 170L418.5 169.1L419.7 168.2L421.5 169.1L419.7 170M469.2 173.9L467.4 172.1L467.5 169.1L469.2 167.1L472.3 166.8L473.1 169.2L472.3 170.3L471.1 172.1L469.2 173.9M478.5 170.5L476.8 169.2L478.5 166.4L479.8 169.2L478.5 170.5M459.9 175L458.1 172.1L459.9 169.3L462.9 172.1L459.9 175M441.3 175.7L440.5 175.1L441.3 172.7L442.6 175.1L441.3 175.7M466.1 176.2L463 176.5L460.1 175.1L463 172.3L466.1 173.3L468 175.1L466.1 176.2M441.4 123.7L440.8 121.5L441.4 121L442.2 121.5L441.4 123.7M438.3 126.7L436 124.4L438.3 123.9L440.6 124.5L438.3 126.7M456.8 170.3L454 169.1L453.7 168.9L450.6 168.8L450.4 169.1L447.5 171.9L445.6 169.1L444.7 166.1L444.4 165.8L443.7 166.1L441.3 166.9L438.2 168.9L435.4 166.1L435.4 163.2L438.3 161.1L438.6 160.2L438.3 158.3L437 160.2L435.2 162.8L432.1 163.1L431.3 163.2L429 163.9L428.2 163.2L425.9 162.3L423.3 160.2L424.7 157.2L422.8 156.4L419.7 154.8L417.4 154.2L419.7 153.8L422.8 151.4L423 151.2L422.8 151L420.5 148.3L420.5 145.3L420.9 142.3L422.8 140.7L425.7 142.3L425.1 145.3L425.9 146L426.1 145.3L426.7 142.3L425.9 142.2L424.1 139.3L425.9 137L426.9 136.3L429 134.3L431 133.4L429 132.4L428 130.4L429 129L432.1 128.7L433 130.4L433.3 133.4L435.2 134.1L436.2 133.4L437.1 130.4L438.3 127.7L441.4 128.2L441.8 127.4L441.8 124.5L444.5 123.2L445.9 124.5L447.6 125.8L449.3 127.4L450.7 128.6L453.8 128.1L456.9 129.7L458.1 130.4L456.9 131.2L455.9 133.4L456.9 134.7L458 133.4L460 131.2L463.1 131.2L464.4 130.4L466.2 128.7L467.2 127.5L468.2 124.5L469.3 123.6L472.4 124.1L472.8 124.5L472.4 125.6L471.4 127.5L472.1 130.5L472.4 130.7L472.5 130.5L475.5 128.7L478.6 127.7L480 130.5L478.6 133.3L478.2 133.4L478.6 134.2L479.1 136.4L481.7 138.8L482.1 139.4L481.6 141.6L478.6 141L477.8 142.4L478.5 144L481.6 143.1L484.7 143.1L487.8 143.1L488.3 145.4L487.8 146.1L484.7 146.1L484 148.3L481.6 150.8L480.7 151.3L481.6 152.2L483.8 154.3L481.6 155.9L478.5 157.1L475.4 157.1L475.2 157.2L475.4 157.4L477.4 160.2L475.4 162.5L472.3 161L470 160.2L469.5 157.2L469.2 156.5L469.1 157.2L469 160.2L469.2 160.6L470.6 163.2L469.2 164.5L467.5 166.2L466.1 167.2L463 168.4L459.9 167.9L459 169.1L456.8 170.3M453.8 126.2L451.1 124.5L453.8 123.4L456.5 124.5L453.8 126.2M463.1 129.5L461 127.5L461.7 124.5L463.1 123.3L464.5 124.5L465.2 127.5L463.1 129.5M445 133.4L444.5 132.2L441.4 131.2L440 133.4L441.4 134.5L444.5 134.6L445 133.4M484.7 137.6L483.3 136.4L484 133.4L484.8 133L485.3 133.5L486.2 136.4L484.7 137.6M472.6 136.4L472.4 136.2L472.2 136.4L472.4 136.6L472.6 136.4M432.5 145.3L435.2 142.7L438.3 142.8L438.5 142.3L438.3 141.4L435.2 142.2L434.4 142.3L432.1 144.6L431.9 145.3L432.1 145.4L432.5 145.3M466.3 148.3L466.2 148.2L466 148.3L466.2 148.4L466.3 148.3M475.7 151.3L475.4 151.2L472.4 148.3L472.3 148.1L472.2 148.3L472.2 151.3L472.3 151.4L475.4 151.5L475.7 151.3M451.4 154.2L450.7 154.2L450.6 154.2L450.7 154.3L451.4 154.2M429.9 157.2L429 155.3L427 157.2L429 159.1L429.9 157.2M444.8 157.2L444.5 156.3L444 157.2L444.5 157.7L444.8 157.2M453.8 163.2L454.1 160.2L453.7 159.5L453.3 160.2L453.7 163.2L453.7 163.4L453.8 163.2M463.9 163.2L463 162.1L462.3 163.2L463 165.4L463.9 163.2M478.5 164.3L477.4 163.2L478.5 162.5L479.1 163.2L478.5 164.3M419.7 169.5L419.2 169.1L419.7 168.7L420.4 169.1L419.7 169.5M435.1 170.2L434.7 169.1L435.2 166.9L437.5 169.1L435.1 170.2M469.2 172.9L468.4 172.1L468.1 169.1L469.2 167.8L471.9 169.2L470 172.1L469.2 172.9M478.5 170L477.4 169.2L478.5 167.4L479.3 169.2L478.5 170M459.9 174.3L458.5 172.1L459.9 169.9L462.2 172.1L459.9 174.3M450.6 176.1L449.3 175.1L450.6 172.5L453.3 175.1L450.6 176.1M466.1 175.5L463 176L461.2 175.1L463 173.4L466.1 174.4L466.9 175.1L466.1 175.5M456.8 169.9L455.1 169.1L453.7 168.2L450.6 167.2L449.6 169.1L447.5 171.1L446.1 169.1L445.8 166.1L444.4 164.2L441.3 165.9L440.9 166.1L438.2 167.8L436.5 166.1L436.5 163.2L438.3 161.9L439 160.2L438.4 157.2L438.3 157L437.3 157.2L435.9 160.2L435.2 161.2L432.1 162.6L429.1 160.2L430.8 157.2L429.3 154.2L429 154L428.8 154.2L425.9 157L422.8 155.8L420 154.2L422.8 152.2L423.8 151.2L425.9 148.6L426 148.3L426.9 145.3L429 142.6L431.1 145.3L432.1 146.1L434.1 145.3L435.2 144.2L438.3 143.2L438.7 142.3L441.4 139.4L441.6 139.3L441.4 139.1L440.9 139.3L438.3 140.6L435.2 141.8L432.3 139.3L432.1 138.9L429 138.9L427.7 136.3L429 135.1L432.1 133.8L435.2 134.7L437 133.4L437.6 130.4L438.3 128.7L440.9 130.4L439.4 133.4L441.4 135L444.5 135.7L446.7 136.4L447.6 136.4L447.9 136.4L447.6 136.2L445.4 133.4L444.5 131.1L442.3 130.4L443.4 127.4L443.4 124.5L444.5 123.9L445.1 124.5L447.6 126.4L448.7 127.4L450.7 129.1L453.8 128.6L456.7 130.4L455.4 133.4L456.9 135.4L458.6 133.4L460 131.8L463.1 131.8L465.5 130.4L466.2 129.8L468 127.5L468.9 124.5L469.3 124.2L471.4 124.5L470.6 127.5L471 130.5L472.4 131.7L473.2 130.5L475.5 129.1L478.6 128.5L479.6 130.5L478.6 132.5L476.6 133.4L478.1 136.4L478.6 136.9L481.2 139.4L478.6 140.4L477.4 142.4L478.5 144.8L480.7 145.3L478.5 147.4L478.4 148.3L475.4 150.9L472.8 148.3L472.3 147L471.7 148.3L471.5 151.3L469.2 154L469.2 154.3L468.7 157.2L467.9 160.2L469.2 162.2L469.8 163.2L469.2 163.7L466.7 166.2L466.1 166.6L464 166.2L464.3 163.2L463 161.6L462 163.2L462.1 166.2L459.9 166.9L458.1 169.1L456.8 169.9M453.8 125.2L452.7 124.5L453.8 124.1L454.9 124.5L453.8 125.2M463.1 128.7L461.8 127.5L462.2 124.5L463.1 123.8L464 124.5L464.4 127.5L463.1 128.7M432.1 132.5L429 131.7L428.4 130.4L429 129.6L432.1 129.7L432.5 130.4L432.1 132.5M469.6 139.4L472.4 137.4L473.7 136.4L472.4 135.1L471.7 136.4L469.3 139.2L466.4 136.4L466.2 136L466.1 136.4L466.2 136.6L469 139.4L469.3 139.8L469.6 139.4M484.7 137.1L483.9 136.4L484.8 133.9L485.6 136.4L484.7 137.1M425.9 141.5L424.5 139.3L425.9 137.5L428.8 139.3L425.9 141.5M422.8 145L421.4 142.3L422.8 141.1L424.9 142.3L422.8 145M422.8 150.3L421.1 148.3L422.8 145.6L425.6 148.3L422.8 150.3M438.4 148.3L438.3 148.1L437.4 148.3L438.3 148.5L438.4 148.3M466.8 148.3L466.2 147.5L465.5 148.3L466.2 148.9L466.8 148.3M481.6 150.4L478.7 148.3L481.6 145.5L483.6 148.3L481.6 150.4M472.3 159.8L470.6 157.2L469.4 154.3L472.3 151.9L475.4 152.3L476.8 151.3L478.5 148.8L479.9 151.3L481.6 153L482.9 154.3L481.6 155.3L478.5 156.3L475.4 156.3L474.1 157.2L472.3 159.8M453.8 154.2L453.8 154L450.7 153.9L450.3 154.2L450.7 154.7L453.8 154.5L453.8 154.2M445.2 157.2L444.5 155.5L443.6 157.2L444.5 158.2L445.2 157.2M425.9 161.9L423.8 160.2L425.9 157.4L428.8 160.2L425.9 161.9M454.3 163.2L454.4 160.2L453.7 158.8L452.9 160.2L453.4 163.2L453.7 164.1L454.3 163.2M475.4 161.8L472.6 160.2L475.4 158.2L476.8 160.2L475.4 161.8M469.2 171.2L468.8 169.1L469.2 168.6L470.3 169.1L469.2 171.2M478.5 169.5L478.1 169.2L478.5 168.5L478.8 169.2L478.5 169.5M459.9 173.7L458.9 172.1L459.9 170.5L461.6 172.1L459.9 173.7M450.6 175.5L450.1 175.1L450.6 174L451.7 175.1L450.6 175.5M463 175.4L462.3 175.1L463 174.4L465.2 175.1L463 175.4M463.1 127.9L462.6 127.5L462.8 124.5L463.1 124.2L463.4 124.5L463.6 127.5L463.1 127.9M447.5 170.4L446.7 169.1L446.9 166.1L445.5 163.2L444.5 162.9L444.1 163.2L441.3 165.1L439.3 166.1L438.2 166.8L437.6 166.1L437.6 163.2L438.3 162.7L439.3 160.2L439 157.2L438.3 156.2L435.5 154.2L435.2 154L434.6 154.2L434.1 157.2L434.9 160.2L432.1 162.2L429.7 160.2L431.6 157.2L430.4 154.2L429 153.4L427.9 154.2L425.9 156.2L422.8 155.2L421.1 154.2L422.8 153L424.6 151.2L425.9 149.6L426.6 148.3L427.7 145.3L429 143.6L430.3 145.3L432.1 146.7L434.8 148.3L435.2 148.5L438.3 149.3L438.7 148.3L438.3 147.6L435.4 145.3L438.3 143.6L438.9 142.3L441.4 139.6L442.4 139.3L444.5 136.7L447.6 136.7L449 136.4L447.6 135.7L445.8 133.4L445.6 130.4L445.6 127.4L447.6 127.1L448 127.4L450.7 129.6L453.8 129.1L455.8 130.4L455 133.4L456.9 136L459.1 133.4L460 132.4L463.1 132.4L466.2 131.5L467.3 130.4L468.8 127.5L469.3 125.5L469.8 127.5L469.9 130.5L472.4 132.8L474.4 133.4L472.4 134.1L471.2 136.4L469.3 138.6L467 136.4L466.2 134.4L465.7 136.4L463.1 139.2L462 139.4L463.1 139.5L463.4 139.4L466.2 137.4L468.2 139.4L469.3 141.4L471.3 142.4L472.4 143.4L472.6 142.4L472.4 141.8L470.7 139.4L472.4 138.2L474.8 136.4L475.5 134.5L476.5 136.4L478.6 138.4L479.6 139.4L478.6 139.8L477.1 142.4L478.3 145.3L478 148.3L475.4 150.5L473.2 148.3L472.4 146L471.1 148.3L470.9 151.3L469.2 153.3L468.9 154.3L468.2 157.2L466.8 160.2L469 163.2L466.1 165.9L464.7 163.2L463 161L461.7 163.2L459.9 166L456.8 166L454.8 163.2L454.7 160.2L453.8 158.2L452.5 160.2L453.2 163.2L450.6 166.1L449.6 166.2L448.8 169.1L447.5 170.4M429 130.9L428.8 130.4L429 130.1L431 130.4L429 130.9M438.3 139.8L435.2 141.3L432.8 139.3L432.1 137.3L429 137.3L428.5 136.3L429 135.9L432.1 135.4L435.2 135.4L437.8 133.4L438 130.4L438.3 129.8L439.3 130.4L438.7 133.4L441.4 135.5L444 136.4L441.4 138L439.3 139.3L438.3 139.8M478.6 131.7L475.5 133.1L473.8 130.5L475.5 129.5L478.6 129.2L479.2 130.5L478.6 131.7M484.7 136.7L484.4 136.4L484.8 135.5L485.1 136.4L484.7 136.7M425.9 140.9L424.9 139.3L425.9 138L428 139.3L425.9 140.9M422.8 143.9L422 142.3L422.8 141.6L424.1 142.3L422.8 143.9M447.7 145.3L447.6 145.2L446.5 145.3L447.6 145.6L447.7 145.3M422.8 149.5L421.8 148.3L422.8 146.6L424.5 148.3L422.8 149.5M467.4 148.3L466.2 146.9L464.9 148.3L466.2 149.5L467.4 148.3M481.6 150.1L479.2 148.3L481.6 146L483.2 148.3L481.6 150.1M472.3 158.2L471.7 157.2L470.1 154.3L472.3 152.5L475.4 153L477.9 151.3L478.5 150.3L479 151.3L481.6 153.8L482.1 154.3L481.6 154.7L478.5 155.5L475.4 155.5L473 157.2L472.3 158.2M454.1 154.2L453.8 153.2L450.7 153.5L450.1 154.2L450.7 155.1L453.8 155.6L454.1 154.2M445.5 157.2L444.5 154.7L443.2 157.2L444.5 158.6L445.5 157.2M425.9 161.5L424.3 160.2L425.9 158L428.1 160.2L425.9 161.5M475.4 161.2L473.7 160.2L475.4 159L476.3 160.2L475.4 161.2M453.7 167.4L451.2 166.2L453.7 164.9L456.3 166.2L453.7 167.4M456.8 169.4L456.2 169.1L456.8 167.2L457.3 169.1L456.8 169.4M459.9 173.1L459.3 172.1L459.9 171.1L460.9 172.1L459.9 173.1M459.9 165.5L456.8 165.3L455.2 163.2L455 160.2L453.8 157.6L452 160.2L452.9 163.2L450.6 165.8L447.7 163.2L447.5 162.6L444.5 162.1L443 163.2L441.4 164.4L438.9 163.2L439.6 160.2L439.5 157.2L438.3 155.4L436.6 154.2L435.2 153.2L433 154.2L432.1 156L431.5 154.2L429 152.8L427.1 154.2L425.9 155.4L422.8 154.6L422.2 154.2L422.8 153.8L425.4 151.2L425.9 150.6L427.1 148.3L428.5 145.3L429 144.7L429.5 145.3L432.1 147.3L433.7 148.3L435.2 149.3L438.3 150.1L439.1 148.3L438.3 147.1L436.1 145.3L438.3 144L439 142.3L441.4 139.8L443.2 139.3L444.5 137.8L447.6 137L450.1 136.4L447.6 135.2L446.2 133.4L447.6 130.7L448.8 130.4L450.7 130.1L453.8 129.6L455 130.4L454.5 133.4L456.5 136.4L456.9 136.5L459.8 139.4L460 139.5L463.1 139.9L464.5 139.4L466.2 138.2L467.4 139.4L469.1 142.4L469.3 142.8L471.9 145.3L470.6 148.3L470.2 151.3L469.2 152.5L468.6 154.3L467.7 157.2L466.1 159.9L463.3 157.2L463 157.1L462.9 157.2L463 158.4L464.9 160.2L463 160.5L461.4 163.2L459.9 165.5M478.6 130.9L475.5 132L474.5 130.5L475.5 129.9L478.6 130L478.8 130.5L478.6 130.9M463.1 138.9L460 139.1L457.2 136.4L459.7 133.4L460 133.1L463.1 133.1L464.9 133.4L465.3 136.4L463.1 138.9M435.2 140.9L433.3 139.3L433.4 136.4L435.2 136L437.1 136.4L438 139.3L435.2 140.9M441.4 137L439.5 136.4L441.4 136.1L442.3 136.4L441.4 137M469.3 138L467.7 136.4L469.3 133.8L470.6 136.4L469.3 138M425.9 140.3L425.3 139.3L425.9 138.5L427.1 139.3L425.9 140.3M472.4 140.3L471.7 139.4L472.4 138.9L474.2 139.4L472.4 140.3M422.8 142.9L422.5 142.3L422.8 142L423.3 142.3L422.8 142.9M475.4 150.2L473.5 148.3L472.8 145.3L473.2 142.4L475.5 139.7L476.7 142.4L477.5 145.3L477.6 148.3L475.4 150.2M448.1 145.3L447.6 144.8L444.5 145.2L444.1 145.3L444.5 145.5L447.6 146.7L448.1 145.3M422.8 148.7L422.4 148.3L422.8 147.7L423.4 148.3L422.8 148.7M467.9 148.3L466.2 146.3L464.4 148.3L466.2 150L467.9 148.3M481.6 149.7L479.8 148.3L481.6 146.5L482.9 148.3L481.6 149.7M445.8 157.2L444.6 154.2L444.5 153.8L444.2 154.2L442.8 157.2L444.5 159.1L445.8 157.2M454.4 154.2L453.8 152.5L450.7 153.2L449.8 154.2L450.7 155.5L453.8 156.6L454.4 154.2M478.5 154.7L475.4 154.7L472.3 156.8L470.7 154.3L472.3 153L475.4 153.8L478.5 152.5L480.4 154.3L478.5 154.7M425.9 161.1L424.7 160.2L425.9 158.6L427.5 160.2L425.9 161.1M432.1 161.7L430.2 160.2L432.1 157.5L434.3 160.2L432.1 161.7M475.4 160.6L474.8 160.2L475.4 159.8L475.7 160.2L475.4 160.6M466.1 165.1L465.1 163.2L466.1 160.6L468.1 163.2L466.1 165.1M453.7 166.6L452.8 166.2L453.7 165.7L454.7 166.2L453.7 166.6M447.5 169.6L447.2 169.1L447.5 167.3L448 169.1L447.5 169.6M459.9 172.5L459.7 172.1L459.9 171.8L460.3 172.1L459.9 172.5M450.6 165.5L448 163.2L447.6 161L444.5 161.3L441.9 163.2L441.4 163.6L440.5 163.2L439.9 160.2L440 157.2L438.3 154.6L437.7 154.2L435.2 152.4L432.1 152.9L429 152.2L426.6 151.2L427.7 148.3L429 145.7L432.1 147.9L432.7 148.3L435.2 150.1L438.3 150.8L439.5 148.3L438.3 146.6L436.7 145.3L438.3 144.3L439.2 142.3L441.4 140L444.1 139.3L444.5 138.8L447.6 137.2L450.7 137.7L451.4 136.4L450.7 135.7L447.6 134.7L446.6 133.4L447.6 131.5L450.7 131.1L452.1 130.4L453.8 130.2L454.2 130.4L454 133.4L455.4 136.4L456.9 136.9L459.4 139.4L460 139.9L463.1 140.3L465.6 139.4L466.2 139L466.6 139.4L468.5 142.4L469.3 143.8L470.9 145.3L470 148.3L469.6 151.3L469.2 151.7L468.3 154.3L467.3 157.2L466.1 159.1L464.2 157.2L463 156.7L460.1 154.3L460 153.9L459.8 154.3L456.8 157.1L454.7 154.2L453.8 151.7L450.7 152.9L449.5 154.2L450.7 155.9L453.4 157.2L451.6 160.2L452.7 163.2L450.6 165.5M475.5 131L475.1 130.5L475.5 130.3L477.2 130.5L475.5 131M463.1 138.5L460 138.3L458 136.4L460 133.9L463.1 133.6L465 136.4L463.1 138.5M469.3 137.3L468.3 136.4L469.3 134.9L470.1 136.4L469.3 137.3M425.9 139.6L425.7 139.3L425.9 139.1L426.3 139.3L425.9 139.6M435.2 140.4L433.9 139.3L435.2 136.8L437.2 139.3L435.2 140.4M475.4 149.8L473.9 148.3L473.8 145.3L473.9 142.4L475.5 140.5L476.3 142.4L476.6 145.3L477.2 148.3L475.4 149.8M451.1 148.3L450.7 148.1L448.4 145.3L447.6 144.5L444.5 144.8L443 145.3L444.5 146L447.6 147.7L449.3 148.3L450.7 148.5L451.1 148.3M458.2 145.3L456.9 144.7L456.7 145.3L456.9 145.4L458.2 145.3M468.5 148.3L466.2 145.7L463.9 148.3L466.2 150.5L468.5 148.3M481.6 149.3L480.3 148.3L481.6 147.1L482.5 148.3L481.6 149.3M425.9 154.6L424.2 154.2L425.9 152.6L426.3 154.2L425.9 154.6M446.1 157.2L445 154.2L444.5 152.8L443.6 154.2L442.4 157.2L444.5 159.5L446.1 157.2M472.3 155.8L471.4 154.3L472.3 153.5L474.7 154.3L472.3 155.8M459.9 164.9L456.8 164.7L455.7 163.2L455.3 160.2L456.8 157.4L457 157.2L460 154.4L462.5 157.2L462.8 160.2L461 163.2L459.9 164.9M425.9 160.7L425.2 160.2L425.9 159.3L426.8 160.2L425.9 160.7M432.1 161.3L430.8 160.2L432.1 158.3L433.6 160.2L432.1 161.3M466.1 164.3L465.5 163.2L466.1 161.7L467.3 163.2L466.1 164.3M450.7 134.1L447.6 134.1L447 133.4L447.6 132.3L450.7 132.7L452.2 133.4L450.7 134.1M466.2 145L463.1 145L460 145.1L456.9 143.1L455.3 142.3L453.8 141.8L451.2 139.4L453 136.4L453.8 134.9L454.3 136.4L456.9 137.3L459 139.4L460 140.3L463.1 140.7L466.2 139.8L468 142.4L466.2 145M463.1 138.1L460 137.5L458.8 136.4L460 134.9L463.1 134.2L464.6 136.4L463.1 138.1M469.3 136.7L469 136.4L469.3 135.9L469.5 136.4L469.3 136.7M435.2 140L434.4 139.3L435.2 137.8L436.4 139.3L435.2 140M450.6 165.2L448.3 163.2L448.3 160.2L447.6 159.8L446.5 157.2L445.3 154.2L444.5 151.8L442.9 154.2L441.9 157.2L444.5 160L446 160.2L444.5 160.6L441.4 162.8L440.3 160.2L440.6 157.2L438.8 154.2L438.5 151.3L439.8 148.3L438.3 146L437.4 145.3L438.3 144.7L439.4 142.3L441.4 140.2L444.5 139.6L444.7 139.3L447.6 137.5L450.5 139.4L450.7 139.5L453.6 142.3L453.8 142.5L456.3 145.3L456.9 145.5L460 146.1L463.1 146.8L463.3 148.3L463.1 149.8L462.5 151.3L460 153.1L459.4 154.3L456.8 156.7L455 154.2L454.1 151.3L453.8 150.5L452.2 148.3L450.7 147.7L448.8 145.3L447.6 144.2L444.5 144.5L441.9 145.3L444.5 146.5L447.2 148.3L447.6 148.6L450.7 149L453.5 151.3L450.7 152.6L449.2 154.2L450.7 156.3L452.6 157.2L451.2 160.2L452.4 163.2L450.6 165.2M475.4 149.5L474.2 148.3L474.9 145.3L474.5 142.4L475.5 141.3L476 142.4L475.8 145.3L476.8 148.3L475.4 149.5M469.2 149.8L469 148.3L467.7 145.3L469.3 144.8L469.8 145.3L469.5 148.3L469.2 149.8M429 151.5L428.2 151.2L428.2 148.3L429 146.8L431.3 148.3L430.5 151.2L429 151.5M481.6 148.9L480.9 148.3L481.6 147.6L482.2 148.3L481.6 148.9M435.2 151.6L433.6 151.2L435.2 150.9L436.7 151.2L435.2 151.6M466.1 158.4L465 157.2L463 156.3L460.6 154.3L463.1 151.5L464.6 151.3L466.1 151L467.7 151.3L468 154.3L466.8 157.2L466.1 158.4M472.3 154.8L472 154.3L472.3 154L473.1 154.3L472.3 154.8M459.9 164.4L456.8 164.1L456.2 163.2L455.6 160.2L456.8 158L457.5 157.2L459.9 154.9L462.1 157.2L462.4 160.2L460.7 163.2L459.9 164.4M425.9 160.4L425.7 160.2L425.9 159.9L426.2 160.2L425.9 160.4M432.1 160.8L431.3 160.2L432.1 159.1L433 160.2L432.1 160.8M466.1 163.6L465.9 163.2L466.1 162.7L466.5 163.2L466.1 163.6M447.6 133.6L447.4 133.4L447.6 133.1L449 133.4L447.6 133.6M463.1 137.7L460 136.7L459.6 136.4L460 135.9L463.1 134.7L464.3 136.4L463.1 137.7M435.2 139.5L435 139.3L435.2 138.9L435.5 139.3L435.2 139.5M456.9 156.3L455.3 154.2L455 151.3L453.8 149L453.3 148.3L450.7 147.2L449.1 145.3L447.6 143.8L444.5 144.1L441.4 145.2L439.6 142.3L441.4 140.4L444.5 140L445.1 139.3L447.6 137.8L450.1 139.4L450.7 139.9L453.2 142.3L453.8 143L455.9 145.3L456.9 145.7L460 147.6L461.4 148.3L461.5 151.3L460 152.4L459 154.3L456.9 156.3M456.9 142L453.8 140.8L452.3 139.4L453.8 137.2L456.9 137.7L458.6 139.4L456.9 142M466.2 144.2L463.1 144.4L460 144.6L457.2 142.3L460 140.7L463.1 141.1L466.2 140.5L467.4 142.4L466.2 144.2M475.5 143.7L475.2 142.4L475.5 142L475.6 142.4L475.5 143.7M438.3 145.5L438 145.3L438.3 145.1L439.7 145.3L438.3 145.5M429 149.6L428.8 148.3L429 147.8L429.7 148.3L429 149.6M441.4 162L440.6 160.2L441.1 157.2L439.9 154.2L439 151.3L440.2 148.3L441.4 145.7L444.5 147.1L446.4 148.3L444.5 150.7L444.2 151.3L442.3 154.2L441.5 157.2L443.9 160.2L441.4 162M475.4 149.1L474.6 148.3L475.4 145.9L476.4 148.3L475.4 149.1M481.6 148.5L481.4 148.3L481.6 148.1L481.8 148.3L481.6 148.5M450.6 164.9L448.6 163.2L450 160.2L447.6 159L446.8 157.2L445.7 154.2L444.9 151.3L447.6 149.2L450.7 149.6L452.8 151.3L450.7 152.3L449 154.2L450.7 156.7L451.8 157.2L450.8 160.2L452.2 163.2L450.6 164.9M466.1 157.6L465.8 157.2L463 155.9L461.1 154.3L463.1 152L466.1 151.6L467.7 154.3L466.3 157.2L466.1 157.6M459.9 163.9L456.8 163.4L456.6 163.2L455.9 160.2L456.8 158.5L458 157.2L459.9 155.3L461.7 157.2L461.9 160.2L460.4 163.2L459.9 163.9M432.1 160.4L431.8 160.2L432.1 159.8L432.3 160.2L432.1 160.4M463.1 137.3L460.6 136.4L463.1 135.2L463.9 136.4L463.1 137.3M453.8 147.9L450.7 146.8L449.5 145.3L447.6 143.5L444.5 143.8L441.4 144.9L439.8 142.3L441.4 140.6L444.5 140.5L445.5 139.3L447.6 138L449.7 139.4L450.7 140.2L452.9 142.3L453.8 143.4L455.5 145.3L453.8 147.9M456.9 141.4L453.8 139.8L453.4 139.4L453.8 138.8L456.9 138.1L458.2 139.4L456.9 141.4M466.2 143.4L463.1 143.8L460 144L457.9 142.3L460 141.1L463.1 141.5L466.2 141.3L466.9 142.4L466.2 143.4M441.4 155.4L441 154.2L439.4 151.3L440.6 148.3L441.4 146.5L444.5 147.6L445.6 148.3L444.5 149.7L443.6 151.3L441.6 154.2L441.4 155.4M456.9 155.9L455.6 154.2L455.8 151.3L453.9 148.3L456.9 145.9L459.9 148.3L460 150.1L460.4 151.3L460 151.6L458.6 154.3L456.9 155.9M475.4 148.8L475 148.3L475.4 146.9L476 148.3L475.4 148.8M450.7 158.4L447.6 158.3L447.1 157.2L446 154.2L445.7 151.3L447.6 149.8L450.7 150.1L452.1 151.3L450.7 152L448.7 154.2L450.7 157.1L451 157.2L450.7 158.4M466.1 156.9L463 155.5L461.5 154.3L463.1 152.6L466.1 152.1L467.4 154.3L466.1 156.9M459.9 163.4L458.7 163.2L456.8 162.6L456.2 160.2L456.8 159L458.4 157.2L459.9 155.8L461.3 157.2L461.4 160.2L460.1 163.2L459.9 163.4M441.4 161.2L440.9 160.2L441.4 158.1L442.8 160.2L441.4 161.2M450.6 164.6L449 163.2L450.6 160.5L451.9 163.2L450.6 164.6M463.1 136.9L461.7 136.4L463.1 135.7L463.5 136.4L463.1 136.9M453.8 147.3L450.7 146.3L449.9 145.3L447.6 143.1L444.5 143.4L441.4 144.6L440 142.3L441.4 140.8L444.5 140.9L445.9 139.3L447.6 138.3L449.3 139.4L450.7 140.6L452.5 142.3L453.8 143.9L455.1 145.3L453.8 147.3M456.9 140.8L454.5 139.4L456.9 138.5L457.8 139.4L456.9 140.8M466.2 142.6L463.1 143.2L460 143.5L458.5 142.3L460 141.5L463.1 141.8L466.2 142.1L466.3 142.4L466.2 142.6M441.4 153.7L439.9 151.3L440.9 148.3L441.4 147.3L444.5 148.1L444.7 148.3L444.5 148.6L443.1 151.3L441.4 153.7M456.9 155.5L455.9 154.2L456.6 151.3L454.1 148.3L456.9 146L459.7 148.3L457.9 151.3L458.1 154.3L456.9 155.5M475.4 148.4L475.3 148.3L475.4 148L475.6 148.3L475.4 148.4M447.6 157.5L447.5 157.2L446.4 154.2L446.5 151.3L447.6 150.5L450.7 150.6L451.5 151.3L450.7 151.7L448.4 154.2L448.6 157.2L447.6 157.5M466.1 156.3L463 155.1L462 154.3L463 153.1L466.1 152.6L467.1 154.3L466.1 156.3M459.9 162.5L456.8 161.5L456.5 160.2L456.8 159.5L458.9 157.2L459.9 156.2L460.9 157.2L461 160.2L459.9 162.5M441.4 160.4L441.3 160.2L441.4 159.7L441.7 160.2L441.4 160.4M450.6 164.4L449.3 163.2L450.6 161L451.7 163.2L450.6 164.4M463.1 136.5L462.8 136.4L463.1 136.3L463.2 136.4L463.1 136.5M453.8 146.7L450.7 145.9L450.2 145.3L447.6 142.8L444.5 143.1L441.4 144.3L440.1 142.3L441.4 141L444.5 141.3L446.3 139.3L447.6 138.5L448.9 139.4L450.7 140.9L452.2 142.3L453.8 144.3L454.7 145.3L453.8 146.7M456.9 140.1L455.5 139.4L456.9 138.9L457.4 139.4L456.9 140.1M463.1 142.5L460 143L459.2 142.3L460 141.9L463.1 142.2L464 142.4L463.1 142.5M441.4 153L440.4 151.3L441.3 148.3L441.4 148.1L442.3 148.3L442.6 151.3L441.4 153M456.9 151.1L454.3 148.3L456.9 146.2L459.5 148.3L456.9 151.1M447.6 156.5L446.8 154.2L447.3 151.3L447.6 151.1L450.7 151.1L450.8 151.3L450.7 151.4L448.2 154.2L447.6 156.5M456.9 155.1L456.2 154.2L456.9 152L457.7 154.3L456.9 155.1M466.1 155.6L463 154.7L462.5 154.3L463 153.6L466.1 153.1L466.8 154.3L466.1 155.6M459.9 161.5L456.8 160.5L456.8 160.2L456.8 160.1L459.4 157.2L459.9 156.7L460.4 157.2L460.5 160.2L459.9 161.5M450.6 164.1L449.6 163.2L450.6 161.5L451.4 163.2L450.6 164.1M453.8 146.1L450.7 145.4L450.6 145.3L447.6 142.4L444.5 142.7L441.4 144L440.3 142.3L441.4 141.2L444.5 141.8L446.7 139.4L447.6 138.8L448.5 139.4L450.7 141.3L451.8 142.3L453.8 144.8L454.3 145.3L453.8 146.1M456.9 139.5L456.6 139.4L456.9 139.3L457 139.4L456.9 139.5M460 142.5L459.8 142.3L460 142.3L460.7 142.3L460 142.5M456.9 150.9L454.4 148.3L456.9 146.3L459.3 148.3L456.9 150.9M441.4 152.2L440.8 151.3L441.4 149.4L442 151.3L441.4 152.2M447.6 155.5L447.1 154.2L447.6 152.4L447.9 154.2L447.6 155.5M456.9 154.7L456.5 154.2L456.9 153L457.3 154.3L456.9 154.7M466.1 155L463 154.3L462.9 154.3L463 154.1L466.1 153.6L466.5 154.3L466.1 155M459.9 160.5L459.2 160.2L459.8 157.2L459.9 157.1L460 157.2L460.1 160.2L459.9 160.5M450.6 163.8L450 163.2L450.6 162.1L451.2 163.2L450.6 163.8M447.6 141.1L447.1 139.4L447.6 139.1L448 139.4L447.6 141.1M444.5 142.4L441.4 143.7L440.5 142.3L441.4 141.4L444.5 142.2L445.1 142.3L444.5 142.4M450.7 144.5L448.4 142.3L450.7 141.6L451.4 142.3L450.7 144.5M453.8 145.4L453.2 145.3L453.8 145.2L453.8 145.3L453.8 145.4M456.9 150.7L454.6 148.3L456.9 146.5L459.1 148.3L456.9 150.7M441.4 151.4L441.3 151.3L441.4 151L441.5 151.3L441.4 151.4M447.6 154.4L447.5 154.2L447.6 154L447.6 154.2L447.6 154.4M456.9 154.3L456.8 154.2L456.9 154.1L456.9 154.2L456.9 154.3M466.1 154.4L465.5 154.3L466.1 154.2L466.2 154.3L466.1 154.4M450.6 163.5L450.3 163.2L450.6 162.6L450.9 163.2L450.6 163.5M447.6 139.6L447.5 139.4L447.6 139.3L447.6 139.4L447.6 139.6M441.4 143.4L440.7 142.3L441.4 141.6L444 142.3L441.4 143.4M450.7 143.5L449.5 142.3L450.7 142L451.1 142.3L450.7 143.5M456.9 150.5L454.8 148.3L456.9 146.6L458.9 148.3L456.9 150.5M450.6 163.2L450.6 163.2L450.6 163.1L450.7 163.2L450.6 163.2M441.4 143.2L440.9 142.3L441.4 141.7L443.3 142.3L441.4 143.2M450.7 142.4L450.6 142.3L450.7 142.3L450.7 142.3L450.7 142.4M456.9 150.3L455 148.3L456.9 146.8L458.7 148.3L456.9 150.3M441.4 142.9L441 142.3L441.4 141.9L442.7 142.3L441.4 142.9M456.9 150.1L455.2 148.3L456.9 146.9L458.5 148.3L456.9 150.1" stroke="#000" stroke-width="1.05" fill="none" stroke-linejoin="round"/>
<path d="M119.9 445.1L120.2 442.1L118 441.9L115.9 442.1L114.9 442.3L114.5 442.1L111.8 441.5L111.1 442.1L108.7 443.8L106.4 442.1L105.6 441.5L102.5 441.1L99.4 441.6L96.7 439.1L96.3 438.9L94.1 439.1L93.2 439.3L92.7 439.1L90.1 438.2L87.4 436.1L87.8 433.1L87 432.7L83.9 432.6L82.7 430.1L83.2 427.2L82.4 424.2L83.9 422.1L84.4 421.2L83.9 419.5L80.8 419.1L79.9 418.2L79.1 415.3L79.3 412.3L78.8 409.3L78.1 406.3L77.7 404.3L77.6 403.4L76.7 400.4L77.7 399L78.9 397.4L79.5 394.5L80.9 393.2L81.6 391.5L80.9 390.9L77.8 389L77.6 388.5L76.8 385.5L74.7 383.4L74.5 382.6L74.7 382.1L75.7 379.6L74.7 377.9L74 376.6L74.7 375.6L77.8 374.3L78.3 373.7L77.8 372.6L74.7 371L74.2 370.7L72.7 367.7L73.2 364.7L74 361.8L74.7 360.8L75.5 358.8L75.3 355.8L75 352.8L75.1 349.9L75.8 346.9L76.8 343.9L77.9 342.2L78.4 341L81 338.2L81.2 338L81 337.6L79.5 335L81 333.7L84.1 333.4L85.8 332.1L87.2 330.4L90.3 329.9L93 329.1L93.5 328.9L96.6 328L97.6 329.1L96.6 330.8L95.8 332.1L96.6 332.4L98.3 332.1L99.7 331.4L102.8 330.8L105.9 331.5L109 331.2L109.1 332.1L110.5 335.1L112.1 337.3L112.8 338.1L112.3 341L114.8 344L115.2 344.4L118.3 346.7L118.8 347L121.4 347.8L124.5 348.4L127.6 348.4L128.9 350L127.6 352.4L127.2 353L127 355.9L127.6 356.7L128.3 355.9L130.7 353.3L133.4 355.9L133.8 356.6L135 358.9L136.9 360.2L139.3 361.9L136.9 364.2L136.4 364.9L136.9 366.1L137.6 364.9L140 362.5L143.1 364L145.5 364.9L146.2 365.9L147.6 367.9L149.3 370.4L152.4 369.5L155.5 368.9L157.6 370.9L158.6 371.1L159.2 370.9L161.8 369.2L164.3 370.9L164.9 371.6L165.4 370.9L164.9 368.8L164.6 367.9L164.7 364.9L164.9 364.8L168 363.6L171.1 364.3L172.1 365L174.2 366L177.3 365.4L180 368L180.4 368.4L181.7 370.9L181.7 373.9L180.5 376.9L181.6 379.9L181.7 382.8L180.7 385.8L180.6 388.8L183.5 391.5L183.6 391.8L183.5 392.6L183 394.7L182.7 397.7L182.5 400.7L180.3 403.3L179.6 403.6L178.2 406.6L179.9 409.6L180.3 409.9L181.7 412.6L180.3 414.1L177.4 415.5L177.2 416.4L176.9 418.5L177.2 419.5L177.7 421.5L178.2 424.5L177.2 426.9L174.6 424.4L174.1 423.8L173.8 424.4L174 425.1L176.4 427.4L175.1 430.4L174 431.8L171.6 430.4L170.9 430L170.6 430.4L170.9 431.1L172.3 433.4L170.9 434.3L169.1 436.3L168 439.3L167.9 442.3L167.8 442.4L164.8 445.2M74.8 341.1L74.6 341L74.8 340.8L75.2 341L74.8 341.1M134.6 370.8L133.8 369.8L133 370.8L133.8 372.5L134.6 370.8M144 370.8L143.1 370L142.5 370.8L143.1 372.1L144 370.8M178 379.8L177.3 379.6L174.4 376.9L174.2 374.8L173.7 373.9L171.1 371.4L170.5 373.9L171.1 374.9L173.6 376.9L174.2 377.4L176.7 379.8L177.3 380.1L178 379.8M166.3 376.8L164.9 374.8L163.9 376.8L164.8 379.2L166.3 376.8M140.7 379.7L140 378.7L139.3 379.7L140 380.6L140.7 379.7M152.6 382.8L152.4 382.4L150.2 382.7L152.4 383.1L152.6 382.8M161.9 382.8L161.7 382.4L161.4 382.8L161.7 383L161.9 382.8M137 388.7L139.9 385.9L140.7 385.7L140 385.3L139.6 385.7L136.8 388.4L133.7 387.4L132.7 388.6L133.7 390.3L136.8 388.9L137 388.7M174.7 391.7L177.3 390.1L180.1 388.8L179.4 385.8L177.3 385.5L175.1 385.8L176.3 388.8L174.1 391.4L171.7 388.7L171 388.4L170.4 388.7L167.9 390.8L165.8 391.7L167.9 392.9L169.6 391.7L171 390L173.4 391.7L174.1 392.4L174.7 391.7M151.4 388.7L149.3 388L146.2 388L145.7 388.7L146.2 389.2L149.3 389.2L151.4 388.7M152.7 397.6L153.4 394.6L155.5 393.4L156 391.7L155.5 390L154.8 391.7L152.4 394.3L152 394.6L151.6 397.6L152.4 399.7L152.7 397.6M146.9 394.6L146.1 393.6L144.8 394.6L146.1 395.5L146.9 394.6M134.4 397.6L133.7 396.6L131.9 397.6L133.7 398.4L134.4 397.6M177.6 397.7L177.2 397.4L176.2 397.7L177.2 397.9L177.6 397.7M165.2 400.6L164.8 399.6L164.4 400.6L164.8 401.1L165.2 400.6M136.3 406.5L133.7 405.8L131.9 406.5L133.7 407.3L136.3 406.5M143.7 406.5L143 405.7L140.4 406.5L143 407.4L143.7 406.5M175.1 409.6L174.1 408.8L172 409.6L174.1 410.7L175.1 409.6M131.6 424.3L130.8 421.3L133.6 418.7L134.4 418.4L133.6 418.2L133.3 418.4L130.5 421L129.8 421.3L129.8 424.3L130.5 425L131.6 424.3M143.5 418.4L143 417.4L140.3 418.4L143 419L143.5 418.4M159.4 427.4L159.6 424.4L159.1 421.4L158.5 420.4L157.9 421.4L157.8 424.4L158.1 427.4L158.5 428.4L159.4 427.4M125.4 427.3L124.3 426.6L124 427.3L124.3 428.3L125.4 427.3M152.9 427.4L152.3 426.2L150.9 427.3L152.3 429.4L152.9 427.4M146.4 433.3L146 431.2L143.9 433.3L146 433.6L146.4 433.3M131 436.2L130.5 435.8L130.1 436.2L130.5 436.5L131 436.2M129.7 445.1L128.4 442.1L127.4 440.5L126.2 442.1L124.2 443.7L122.3 445.1M143.2 445.2L146 443.2L147.3 442.2L146 440L142.9 439.7L142.2 442.2L139.8 444.4L138 445.1M160.6 445.2L160.1 442.2L158.5 440.7L156.5 442.2L155.3 443.9L152.2 442.4L150.3 445.2M105.6 439.3L104.7 439.1L102.5 437.7L99.4 437.3L96.3 437.6L93.3 436.1L94.5 433.1L93.2 432.3L90.1 432.1L87 431.3L85 430.1L87 428.3L88.3 427.2L90.1 425.2L90.7 424.2L90.1 423.5L87 422.8L86.5 421.2L87 419.6L90.1 419L91.4 418.3L90.1 417.5L88.4 415.3L90.1 412.5L90.5 412.3L90.1 412.1L87 410.1L85.1 412.3L83.9 413.3L82.3 412.3L81.9 409.3L81.6 406.3L83.9 404.2L84.4 403.4L85 400.4L85 397.4L84 395.4L82.9 394.5L84 392.5L84.7 391.5L84.1 388.5L84 388.4L80.9 387.9L80.2 385.5L79.4 382.6L79.1 379.6L80.1 376.6L80.9 375.7L81.4 373.7L80.9 372.7L79.1 370.7L78.3 367.7L78.6 364.7L77.8 363.6L76.6 361.8L77.4 358.8L77.6 355.8L77.3 352.8L77.9 351.3L78.5 349.9L78.2 346.9L81 344.7L82.3 343.9L81 341.9L80.5 341L81 340.4L83.3 338L84.1 336.7L87.2 335.6L87.5 335L90.3 333.1L92.1 335.1L93.4 335.6L94.3 335.1L96.6 333.5L99.7 334.1L101.7 335.1L102.5 338L102.8 338.2L105.9 338.6L108.2 341L109 341.6L111.8 344L112.1 344.7L114.1 347L115.2 347.8L118.1 350L118.1 352.9L118.3 353.2L121.4 353.3L124.5 355.3L124.7 355.9L124.5 357.7L121.4 358.5L121.2 358.9L121.4 359.2L124.2 361.9L124.5 362L126.9 364.9L127.2 367.8L126.4 370.8L124.4 373.3L124 373.8L124.4 375.1L126.1 376.7L124.4 377.9L123.4 379.7L124.4 381.5L125.4 382.7L124.7 385.7L124.4 386L122.5 385.6L121.3 385.5L121.1 385.6L119.9 388.6L118.2 390.9L115.1 391.5L115 391.6L114.7 394.5L111.9 395.9L111 397.5L111.9 398.4L113.9 397.5L115 394.9L115.5 394.5L118.2 393L121.3 393.4L122.3 391.6L124.4 390.1L126 391.6L125.3 394.6L124.4 397.2L123.8 397.5L124.4 397.9L124.8 397.5L127.5 396.7L128.5 397.6L130.2 400.5L127.5 403.1L124.4 401.8L121.7 403.5L121.2 404.1L118.1 405.1L117.3 403.5L118.1 401.9L119 400.5L118.1 399.7L117.4 400.5L115 402L114.1 403.5L115 405.3L117 406.4L115 408.4L112.8 409.4L115 409.9L117.2 412.4L115 414.6L114.1 415.4L113.1 418.3L115 419.4L118 421.3L116.9 424.3L116.8 427.2L118.1 427.8L119.1 430.2L118.1 432.6L115 431.7L114.2 433.2L114.9 435.2L115.6 436.2L114.9 437L111.8 438.5L108.7 439L107.5 439.1L105.6 439.3M133.8 365.8L133.1 364.9L133.8 362.5L134.3 364.9L133.8 365.8M130.7 368.7L128.8 367.8L130.7 367.5L131.1 367.8L130.7 368.7M140 371.1L139.4 370.8L140 370.2L140.2 370.8L140 371.1M119.4 373.8L118.2 373L117.1 373.7L118.2 374.5L119.4 373.8M127.5 375.9L125.3 373.8L127.5 372.4L128.8 373.8L127.5 375.9M158.6 376.4L157 373.8L158.6 373.1L159.8 373.8L158.6 376.4M168 375.5L167.1 373.9L168 372.9L168.5 373.9L168 375.5M133.8 377.6L133.3 376.8L133.8 376.5L134.1 376.8L133.8 377.6M161.7 378.8L158.9 376.8L161.7 375.3L162.6 376.8L161.7 378.8M177.3 377.1L177.1 376.9L177.3 375.1L177.5 376.9L177.3 377.1M155.5 387.1L153.1 385.7L155 382.8L154.6 379.8L155.5 379.5L158.6 377.2L160.2 379.8L158.6 382.4L158 382.8L157.3 385.7L155.5 387.1M146.2 383.5L143.7 382.7L146.2 382.1L146.8 382.7L146.2 383.5M164.8 384.4L163.3 382.8L164.8 381L166.5 382.8L164.8 384.4M177.3 383L176.8 382.8L177.3 382.6L177.6 382.8L177.3 383M161.7 390.6L159.5 388.7L160.4 385.7L161.7 385L162.6 385.8L163.9 388.7L161.7 390.6M171 387L167.9 388.4L166.8 385.8L167.9 384.7L171 383.7L172.5 385.8L171 387M139.9 390.4L138.7 388.7L139.9 387.5L142 388.7L139.9 390.4M136.8 392.6L136.1 391.6L136.8 391.1L137.8 391.6L136.8 392.6M158.6 392.5L158.1 391.7L158.6 390.5L159.6 391.7L158.6 392.5M130.6 395.3L130 394.6L130.6 393.9L131.6 394.6L130.6 395.3M161.7 395.5L160.5 394.7L161.7 393.4L163.3 394.7L161.7 395.5M158.6 400L155.7 397.6L158.6 396L160 397.6L158.6 400M136.8 401.1L136.2 400.5L136.8 398.8L137.2 400.6L136.8 401.1M171 404.7L169 403.6L169.4 400.6L171 398.1L172.6 400.6L172 403.6L171 404.7M177.2 401.4L176 400.7L177.2 400.1L179.7 400.7L177.2 401.4M149.2 404.2L148 403.6L149.2 402.6L151.7 403.6L149.2 404.2M161.7 407.9L159.6 406.6L160.7 403.6L161.7 401.7L163 403.6L163.3 406.6L161.7 407.9M91.2 406.4L90.1 406.2L89.5 406.4L90.1 407L91.2 406.4M167.9 409.8L167.3 409.6L167.3 406.6L167.9 405.7L168.3 406.6L168.2 409.6L167.9 409.8M174.1 406.8L173.7 406.6L174.1 406.3L174.4 406.6L174.1 406.8M100.2 409.4L99.5 408.6L99 409.4L99.5 410.6L100.2 409.4M121.2 410.7L118.8 409.4L121.2 407.5L123.6 409.4L121.2 410.7M127.4 413.6L126.7 412.4L125.4 409.4L127.5 407.5L128.5 409.4L129.9 412.4L127.4 413.6M136.8 411.8L135.5 409.5L136.8 408.9L139.3 409.5L136.8 411.8M152.3 410.6L151 409.5L152.3 408.7L153.9 409.5L152.3 410.6M139.9 416L136.8 415.8L133.7 416.2L132.8 415.4L131 412.4L133.7 410.9L136.4 412.4L136.8 413.6L139.9 414.8L140.9 415.4L139.9 416M149.2 415.7L148.8 415.4L148.6 412.5L149.2 411.5L150 412.5L149.5 415.4L149.2 415.7M118.1 420.7L117.4 418.3L116.2 415.4L118.1 413.8L120 415.4L120.6 418.3L118.1 420.7M174.1 419.3L172.4 418.5L173.2 415.5L174.1 414.3L174.7 415.5L174.6 418.5L174.1 419.3M146.1 420.3L145.3 418.4L146.1 417.3L147.1 418.4L146.1 420.3M167.8 418.9L166 418.5L167.8 418.2L168.8 418.5L167.8 418.9M124.3 422.4L123.3 421.3L124.3 418.7L125.5 421.3L124.3 422.4M143 425.5L141.8 424.3L139.9 421.6L138.9 421.4L139.9 421.1L143 421.2L143.9 421.4L144.1 424.4L143 425.5M149.2 425.9L148.1 424.4L148.2 421.4L149.2 421.1L149.5 421.4L151 424.4L149.2 425.9M161.6 421.7L161.4 421.4L161.6 421L162.2 421.4L161.6 421.7M139.8 433.7L136.7 433.8L135.1 433.2L135.8 430.3L135.1 427.3L136 424.3L136.7 422.7L137.4 424.3L137.6 427.3L139.8 429.5L140.5 430.3L140.1 433.3L139.8 433.7M170.9 426L170.3 424.4L170.9 423.8L171.5 424.4L170.9 426M114.5 427.2L111.9 426.7L110.7 427.2L111.9 428.7L114.5 427.2M121.2 427.7L119.3 427.3L121.2 427L121.4 427.3L121.2 427.7M146.1 428.2L145 427.3L146.1 426.5L147.4 427.3L146.1 428.2M155.4 431.9L154.4 430.3L154.5 427.4L155.4 426L156.3 427.4L156.7 430.3L155.4 431.9M167.8 429.3L166.5 427.4L167.8 426.5L169.8 427.4L167.8 429.3M130.5 432L128.9 430.3L130.5 428.9L132.7 430.3L130.5 432M121.2 433.8L118.7 433.2L121.2 432.3L123.7 433.2L121.2 433.8M158.5 437.8L155.4 436.6L154.9 436.3L155.4 435.7L158.5 435.1L160.7 436.3L158.5 437.8M124.3 439.8L121.1 440.2L118 439.4L117.7 439.1L118 438.9L121.2 438.1L124.3 438.9L124.6 439.2L124.3 439.8M133.6 439.5L132.7 439.2L133.6 438.7L134 439.2L133.6 439.5M161.6 440.2L160.6 439.3L161.6 437.7L162.6 439.3L161.6 440.2M136.7 442.8L136 442.2L136.7 441.4L138.3 442.2L136.7 442.8M145.8 445.2L146 445L146.4 445.2M108.7 436.5L108.3 436.1L105.6 433.6L102.5 434.4L99.4 434L97.9 433.1L96.3 430.2L96.3 429.9L96.2 430.2L93.2 430.6L91.7 430.1L92.3 427.2L92.3 424.2L90.1 421.5L89.6 421.2L90.1 421L93.2 420.6L94.2 418.3L93.2 416.4L90.1 415.6L89.9 415.3L90.1 415L93.2 414.4L95.8 412.3L94.1 409.4L94.4 406.4L94.4 403.4L93.3 402.8L93 403.4L90.1 405.1L87 406L85.6 403.4L87 401L87.6 400.4L87.1 399.4L86.3 397.4L87.1 394.5L90.2 394.9L90.4 394.5L90.2 393.9L88 391.5L87.1 390.3L86.2 388.5L84 386.9L82.3 385.5L84 383.6L85.2 382.6L84 379.6L84 379.6L81.6 376.6L82.4 373.7L80.9 370.9L80.7 370.7L80.6 367.7L80.6 364.7L78.3 361.8L78.6 358.8L78.8 355.8L79.3 352.9L81 350.3L81.1 349.9L81 349.2L80 346.9L81 346.1L84.1 345.2L84.4 343.9L84.3 341L87.2 338.8L90.3 338L90.4 338L93.4 336.8L95.9 335.1L96.6 334.6L97.8 335.1L99.7 335.9L101.4 338L102.8 339.1L105.9 340.1L106.7 341L109 342.8L110.4 344L111.3 347L112.1 348.5L115 350L112.1 351.9L111.9 352.9L112 353.3L113.2 352.9L115.2 350.1L115.8 352.9L117.3 355.9L118.3 358.2L118.6 358.9L120.3 361.9L119 364.8L118.6 367.8L121.3 369.1L124.4 370.1L124.7 370.8L124.4 371.1L121.9 373.8L121.3 374.7L120.9 373.8L118.2 372L115.7 373.7L118.2 375.4L120.4 376.7L118.2 378.8L116.8 379.7L118.2 382.1L121.3 381.8L121.8 382.7L121.3 383L118.2 384L117.9 385.6L118.2 387.3L118.4 388.6L118.2 388.9L115.1 389.8L112 388.6L112 388.5L111.9 388.6L112 388.6L113.4 391.6L111.9 393.5L111.1 394.5L109.5 397.5L111.9 399.9L113.7 400.5L112.7 403.5L111.9 405.8L111.6 406.4L108.8 408.3L106.5 409.4L107.2 412.4L105.7 414L103.7 412.4L102.6 411.5L101.6 409.4L99.5 407.1L98 409.4L97.3 412.3L99.5 414.4L102.6 413.9L103.7 415.3L105.6 418.3L102.5 421.2L100.1 418.3L99.4 416.7L99 418.3L99.4 419.4L102.4 421.3L102.5 421.3L102.6 421.3L105.7 418.3L108.8 419.8L110.1 421.3L108.8 424.2L108.7 424.3L108.6 427.2L105.6 429.5L104 430.2L105.6 432.7L108.3 430.2L108.7 428.9L109.4 430.2L111.8 431.5L112.7 433.2L111.8 434.5L109.2 436.1L108.7 436.5M124.5 366L123.7 364.8L124.5 364.2L125 364.8L124.5 366M164.8 383L164.6 382.8L164.8 382.6L165 382.8L164.8 383M115 412.6L114.3 412.4L115 412.1L115.3 412.4L115 412.6M115 425.4L111.9 425.6L108.8 424.3L111.9 422.5L113.9 421.3L115 420.7L115.9 421.3L115.7 424.3L115 425.4M96.3 436.3L95.9 436.1L96.3 435.2L96.7 436.1L96.3 436.3M99.5 399.3L96.4 398.5L94.7 397.5L93.3 396.8L91.6 394.5L90.7 391.5L90.2 390.4L88.8 388.5L87.2 385.6L87.3 382.6L87.1 382.3L85 379.6L84 378.4L82.6 376.6L83.4 373.7L82 370.7L82.9 367.7L82 364.7L80.9 363.7L79.3 361.8L79.7 358.8L79.9 355.8L81 353.2L81.1 352.9L81.9 349.9L84.1 347.5L84.8 346.9L85.5 344L85.7 341L87.2 339.9L90.3 339.5L93.3 338L93.4 338L96.5 336.2L99.7 337.2L100.3 338L99.6 339.8L99.1 341L99.6 341.5L100.5 341L102.8 340L105 341L105.9 342.2L109 344L109 344L109 347L111 350L111.2 352.9L112 355.5L115.2 355.8L115.2 355.9L115.2 356.2L114.7 358.9L115.1 359.9L117.6 361.9L115.1 363L114.6 364.8L115.1 365.8L117 367.8L118.2 370L121.3 370.5L121.9 370.8L121.3 371.4L118.2 371.1L115.1 371.5L114.6 373.7L115.1 375.4L118.2 376.3L118.9 376.7L118.2 377.4L115.1 378.6L112 378.9L111.5 379.7L111.7 382.6L111.3 385.6L109.8 388.6L108.8 389.6L107.2 391.6L105.7 394.1L105.5 394.5L102.6 397.3L102.1 397.5L99.5 399.3M115.1 387.5L113.4 385.6L113.8 382.7L115.1 381.5L115.6 382.7L116 385.6L115.1 387.5M108.8 395.2L107 394.5L108.8 394L109.2 394.5L108.8 395.2M90.2 404.1L87 403.8L86.8 403.4L87 403L89.3 400.4L90 397.5L90.2 397.4L90.4 397.5L91.8 400.4L91.2 403.4L90.2 404.1M105.7 398.9L103.1 397.5L105.7 395L107.3 397.5L105.7 398.9M102.6 402.9L100.3 400.5L102.6 397.7L104.6 400.5L102.6 402.9M108.8 401L108.2 400.5L108.8 399.8L109.6 400.5L108.8 401M99.5 405.4L97.6 403.4L99.5 401.3L102 403.4L99.5 405.4M96.4 410.6L95.5 409.4L96.3 406.4L96.4 406.3L96.5 406.4L97 409.4L96.4 410.6M102.6 408.8L100.5 406.4L102.6 404L104.4 406.4L102.6 408.8M108.8 406.9L107.9 406.4L108.8 405.6L109.5 406.4L108.8 406.9M96.3 418.4L96.3 418.3L96.3 418.1L96.4 418.3L96.3 418.4M105.6 423.5L104.9 421.3L105.7 420.5L107 421.3L105.6 423.5M96.3 425L94.9 424.2L96.3 423.4L98.6 424.2L96.3 425M102.5 426.2L99.8 424.2L102.5 422.9L105.2 424.2L102.5 426.2M111.9 424.5L111.4 424.3L111.9 424L112.8 424.3L111.9 424.5M105.6 428.7L103.1 427.2L105.6 424.4L107.5 427.2L105.6 428.7M108.7 433.3L108.6 433.2L108.7 433.1L108.9 433.2L108.7 433.3M93.3 395.1L92.8 394.5L92.6 391.5L91.4 388.5L90.2 388L88.1 385.6L88.3 382.6L87.1 381L86 379.6L84 377.2L83.5 376.6L84 374.9L84.5 373.7L84 372.6L83.2 370.7L84 369L84.3 367.7L84 366.4L83.2 364.7L80.9 362.4L80.4 361.8L80.7 358.8L80.9 356.6L81.1 355.8L82.4 352.9L82.8 349.9L84.1 348.4L86.1 346.9L86.5 344L87.1 341L87.2 340.9L90.3 340.9L90.5 341L93.4 341.8L95.1 341L96.5 338.3L97.7 341L99.6 342.6L102.6 341L102.8 341L102.9 341L105.1 344L105.9 345.2L106.9 347L109 349.1L109.5 349.9L110.5 352.9L111.5 355.9L112 357.5L113.1 358.9L113.9 361.8L113.9 364.8L115.1 367.3L115.6 367.8L115.1 368.7L113.4 370.8L113.7 373.7L113.7 376.7L112 377.6L110.7 379.7L110.8 382.6L109.9 385.6L108.9 387.3L108.1 388.6L105.7 391.2L102.6 391.3L102 391.5L99.5 394.3L96.4 392.6L94.1 394.5L93.3 395.1M102.6 395.5L99.9 394.5L102.6 392.4L103.6 394.5L102.6 395.5M102.6 400.9L102.2 400.5L102.6 400L103 400.5L102.6 400.9M99.5 403.6L99.4 403.4L99.5 403.3L99.7 403.4L99.5 403.6M102.6 406.8L102.2 406.4L102.6 406L102.9 406.4L102.6 406.8M105.6 427.8L104.6 427.2L105.6 426.1L106.4 427.2L105.6 427.8M105.7 389.5L102.6 390L99.5 391.5L96.4 389.2L95.1 388.6L93.3 388.3L90.2 387L88.9 385.6L89.2 382.6L87.1 379.8L87 379.6L85.7 376.6L85.7 373.7L84.6 370.7L84.9 367.7L84.2 364.8L84 364.3L81.6 361.8L84.1 359.1L84.3 358.8L84.1 357L83.7 355.8L83.7 352.9L83.6 349.9L84.1 349.4L87.2 347.1L87.5 346.9L87.8 344L90.3 342.1L93.4 342.7L96.5 341.2L99.6 343.7L102.7 343.6L103 344L105.4 347L105.8 347.6L108.1 349.9L108.9 351L109.8 352.9L110.9 355.9L110.7 358.9L111.8 361.8L112 362.1L113.2 364.8L114.1 367.8L112 370.2L111.7 370.8L112 371.5L112.9 373.7L112 376L111.6 376.7L109.8 379.7L109.9 382.6L108.9 385L108.5 385.6L106.6 388.6L105.7 389.5M102.6 388.8L99.5 390.8L97.1 388.6L96.4 387.1L93.3 386.7L90.2 386L89.8 385.6L90.2 382.6L90.2 382.4L90.4 379.6L90.2 379.4L87.6 376.6L87.1 374.3L86.9 373.7L86.5 370.7L85.4 367.7L84.9 364.8L84 362.7L83.1 361.8L84 360.8L85.5 358.8L85.6 355.8L85.4 352.9L84.6 349.9L87.2 348L89.4 346.9L89.5 344L90.3 343.4L93.4 343.6L96.5 342.3L98.6 344L99.6 344.4L102.7 344.9L104.5 347L105.8 348.9L106.8 349.9L108.9 352.6L109.1 352.9L110.3 355.9L108.9 358.2L108.6 358.9L108.9 359.7L110.7 361.8L112 363.6L112.5 364.8L112.5 367.8L112 368.4L110.9 370.8L112 373.7L112 373.7L112 373.8L110.5 376.7L109 379.7L109 382.6L108.9 383L107.5 385.6L105.7 388L103.5 388.6L102.6 388.8M99.5 390L97.9 388.6L97.3 385.6L96.4 385.4L93.3 384.6L92.3 382.6L91.3 379.6L90.2 378.5L88.5 376.6L88.4 373.7L87.5 370.7L87.1 370L86 367.7L85.5 364.8L84.9 361.8L86.7 358.8L87.2 356.4L87.2 355.8L87.3 352.9L87.2 352.6L85.9 349.9L87.2 349L90.3 348L92.5 346.9L93.4 346.1L95 344L96.5 343.4L97.2 344L99.6 345L102.7 346L103.6 347L103.4 349.9L105.8 350.3L107.9 352.9L108.9 354.2L109.6 355.9L108.9 357.1L108 358.9L108.9 361.1L109.5 361.8L111.8 364.8L109.6 367.8L110.1 370.8L109.9 373.7L109.3 376.7L108.9 377.6L108.3 379.7L106 382.6L106.5 385.6L105.7 386.7L104.3 385.6L102.6 382.8L100.1 385.6L101.7 388.6L99.5 390M99.5 384L96.4 382.9L95.9 382.6L93.3 381.9L92.1 379.6L90.2 377.6L89.4 376.6L89.8 373.7L88.1 370.7L87.1 368.9L86.5 367.7L86.1 364.8L87.2 361.9L87.2 361.8L87.6 358.8L88.1 355.8L88.1 352.9L90.3 350L90.4 349.9L93.4 347.8L94 346.9L96.5 344.4L99.6 345.6L102.7 347L102.2 349.9L102.7 351L105.8 351.8L106.7 352.9L108.9 355.7L109 355.9L108.9 356L107.4 358.9L108.7 361.8L108.9 362.5L110.7 364.8L108.9 366.8L108.4 367.8L108.9 369.5L109.3 370.8L108.9 372.3L108.5 373.7L108 376.7L107.6 379.7L105.8 381.9L102.6 381.8L100.9 382.6L99.5 384M99.5 389.3L98.7 388.6L99.5 386.9L100.6 388.6L99.5 389.3M105.8 381L102.6 380.9L99.5 382.4L96.4 381L93.3 380.3L93 379.6L90.2 376.7L91 373.7L90.2 373.1L88.6 370.7L87.1 367.9L87.1 367.7L86.8 364.8L87.1 363.7L88 361.8L88.2 358.8L89 355.8L89 352.9L90.3 351.1L92 349.9L93.4 348.9L94.8 346.9L96.5 345.2L99.6 346.2L101.4 347L101.6 349.9L102.7 352.1L104.9 352.9L105.8 353.6L107.5 355.9L106.9 358.9L108.2 361.8L108.9 364L109.6 364.8L108.9 365.6L107.7 367.8L105.8 370.7L107.8 373.7L106.7 376.7L106.9 379.7L105.8 381M105.8 380.2L102.7 380L99.5 381.4L96.8 379.6L96.4 379.3L93.3 376.9L93.2 376.7L92 373.7L90.2 372.2L89.2 370.7L90.1 367.7L87.7 364.8L88.9 361.8L88.9 358.8L89.8 355.8L89.9 352.9L90.3 352.3L93.4 350L93.6 349.9L95.6 346.9L96.5 346L99.6 346.8L100.1 347L101 349.9L101.4 352.9L102.7 353.1L105.8 355.8L105.9 355.9L106.3 358.9L107.7 361.8L108.6 364.8L107.1 367.8L105.8 369.8L105.2 370.7L105.8 371.8L107.1 373.7L105.8 376.3L105.5 376.7L105.8 377.5L106.2 379.7L105.8 380.2M99.5 380.5L98.2 379.6L96.4 378L94.9 376.7L93.3 374.6L93 373.7L90.2 371.4L89.8 370.7L90.2 369.3L91.1 367.7L90.3 366L89.2 364.8L89.7 361.8L89.5 358.8L90.3 356.8L90.8 355.9L91.1 352.9L93.4 351.2L95.2 349.9L96.4 346.9L96.5 346.9L96.9 346.9L99.6 348L100.4 349.9L99.6 351.9L98.9 352.9L99.6 354.5L102.7 354L104.9 355.9L105.6 358.9L105.8 359.1L107.2 361.8L107.8 364.8L106.4 367.8L105.8 368.8L104.5 370.7L102.7 373.4L102.4 373.7L102.7 374.2L104.5 376.7L102.7 378.8L101.4 379.7L99.5 380.5M96.6 370.7L96.5 370.6L96.2 370.7L96.5 371.1L96.6 370.7M105.8 374.9L103.6 373.7L105.8 372.8L106.4 373.7L105.8 374.9M99.6 350.4L97.6 349.9L99.6 349.5L99.8 349.9L99.6 350.4M102.7 377.6L99.5 379.4L96.7 376.7L96.4 376.6L94.4 373.7L96.5 372.3L97.2 370.7L96.5 370.2L95.3 370.7L93.3 373L90.5 370.7L92 367.7L90.6 364.8L90.5 361.8L93.4 359.2L93.7 358.8L93.4 358.1L91.8 355.9L92.7 352.9L93.4 352.4L96.5 350.3L97.7 352.9L99.1 355.9L99.6 356.2L100.5 355.9L102.7 354.9L103.9 355.9L104.3 358.9L105.8 360.1L106.7 361.8L107.1 364.8L105.8 367.7L105.8 367.8L103.9 370.7L102.7 372.5L101.6 373.7L102.7 375.6L103.4 376.7L102.7 377.6M90.3 359.7L90.2 358.8L90.3 358.6L91 358.8L90.3 359.7M99.6 375.6L96.4 374.1L96.1 373.7L96.4 373.5L97.7 370.7L96.5 369.8L94.4 370.7L93.3 372L91.8 370.7L92.9 367.7L91.6 364.8L91.3 361.8L93.4 359.9L94.3 358.8L93.4 356.6L92.9 355.9L93.4 354.5L96.3 352.9L96.5 352.8L96.5 352.9L98.1 355.9L99.6 356.9L102.4 355.9L102.7 355.7L102.9 355.9L103.1 358.9L105.8 361.1L106.2 361.8L106.3 364.8L105.8 365.9L104.4 367.8L103.3 370.7L102.7 371.6L100.8 373.7L99.6 375.6M99.6 374.4L98.3 373.7L98.2 370.7L96.5 369.4L93.7 367.7L93.4 366.5L92.7 364.8L92.1 361.8L93.4 360.6L95 358.8L94.9 355.9L96.5 354.8L97 355.9L99.6 357.7L101.8 358.8L102.7 359.4L105.6 361.8L104.9 364.8L103 367.8L102.7 370L102.6 370.7L100 373.7L99.6 374.4M93.3 371L93.1 370.7L93.4 369.8L93.5 370.7L93.3 371M99.6 373L98.7 370.7L96.5 369L94.4 367.7L94.2 364.8L93.4 363.7L92.9 361.8L93.4 361.4L95.6 358.8L96.5 356.7L99.6 358.4L100.4 358.8L102.7 360.3L104.5 361.8L102.7 364.7L99.6 363.4L98.3 364.8L99.6 366L101.2 367.8L101.4 370.7L99.6 373M96.5 364.7L93.8 361.8L96.3 358.8L96.5 358.3L97.8 358.8L99.3 361.8L96.5 364.7M102.7 363.1L100.4 361.8L102.7 361.2L103.5 361.8L102.7 363.1M96.5 368.6L95 367.7L96.5 365L99.4 367.8L96.5 368.6M99.6 371.6L99.2 370.7L99.6 368.3L100.3 370.7L99.6 371.6M96.5 363.7L94.7 361.8L96.5 359.6L98.4 361.8L96.5 363.7M96.5 368.2L95.7 367.7L96.5 366.3L98 367.8L96.5 368.2M96.5 362.8L95.6 361.8L96.5 360.7L97.4 361.8L96.5 362.8M96.5 367.8L96.4 367.8L96.5 367.6L96.6 367.8L96.5 367.8" stroke="#000" stroke-width="1.1" fill="none" stroke-linejoin="round"/>
<path d="M335.8 330.8L334.9 329.6L335.6 326.6L335.8 326.4L336 326.6L337.7 329.6L335.8 330.8M345.1 326.8L345 326.6L345.1 326L345.7 326.6L345.1 326.8M340.7 445.6L338.8 444.5L336.3 442.6L335.7 442L335.2 442.6L332.6 444.4L330.5 442.6L329.5 441.9L326.4 441.8L325.1 439.6L323.3 437.5L321.5 436.6L322.4 433.6L320.2 430.9L320 430.7L319.5 427.7L319.1 424.7L319.9 421.7L320.3 421.4L321.6 418.8L320.3 416.1L320.1 415.8L320.3 415.5L323.4 414.6L326.1 412.8L326.5 412.2L329.6 410.3L330 409.9L330.9 406.9L329.6 405.6L328.4 406.9L326.5 409.3L324.8 406.9L325.5 403.9L325.1 400.9L326.5 399.3L329.6 399.1L332.7 398.4L332.9 398L332.7 397.7L329.6 397.6L326.5 395.3L325.8 395L323.9 392L324 389L323.4 386.7L323.2 386L321.7 383.1L322 380.1L322 377.1L320.9 374.1L320.3 373.7L318.4 371.2L319.7 368.2L319.4 365.2L320 362.2L320.3 361.6L320.9 359.3L320.9 356.3L323.1 353.3L321.1 350.3L323.4 348.7L326.2 347.4L326.2 344.4L326.5 344.1L327.3 341.4L329.6 338.9L330 338.5L332.7 335.9L335.2 335.5L335.8 335.2L338.6 332.6L338.9 332L341.4 329.6L342 329.4L342.2 329.6L345.1 332.4L348 329.6L348.2 329L349 326.6L351.3 325.6L352.7 326.7L353.2 329.6L351.3 331.4L350.7 332.6L348.2 335L347.9 335.6L348.2 336L348.7 335.6L351.3 333.1L351.7 332.6L354.4 330L357.5 332.4L357.7 332.6L358.1 335.6L360.6 336.8L361.8 338.6L363.7 341.3L364.8 338.6L366.8 336.2L368 335.6L369.9 334.7L371.1 335.6L373 336.5L376.1 337L379.2 336.8L382.3 337L384 338.6L383.4 341.6L382.9 344.6L382.3 345.2L381.8 347.6L382.3 348.4L384 350.5L383 353.5L384.1 356.5L385.4 357.7L386.3 359.5L385.4 360.7L383.5 362.4L385.4 363.5L386.8 365.4L385.4 367L382.3 367.6L380.4 368.4L382.3 370.2L383.5 371.3L382.3 372.5L381.5 374.3L382.3 375.7L383.6 377.3L385.4 378.1L388.4 380.1L388.6 380.3L390.6 383.3L391.5 385L392.5 386.2L394.6 387.9L395.8 389.2L395.3 392.2L397.7 393L398.9 395.2L400.8 397.4L403.9 396.8L405.3 398.2L405.5 401.1L404.2 404.1L407 405.4L410.1 406.2L410.8 407.1L410.1 408.3L409 410.1L408.6 413L407 415.4L406.6 416L407 416.5L409.2 419L409 421.9L408.1 424.9L407 426.5L403.9 425.8L400.8 427.1L398.3 427.9L400.8 430.2L401.4 430.8L400.8 431.1L400 433.8L398.3 436.8L400.8 439.2L401 439.8L402.4 442.7L400.9 445.7M363.7 336.8L361.8 335.6L363.5 332.6L363.7 332.4L366.8 332.4L367 332.6L366.8 333.2L365.6 335.6L363.7 336.8M373 333L372.8 332.7L373 332.5L373.3 332.7L373 333M329.6 336.1L329.4 335.5L329.6 335.2L330.2 335.5L329.6 336.1M326.5 339.7L325.3 338.5L326.5 337.6L328.4 338.5L326.5 339.7M376.6 347.5L376.1 346.4L375.8 347.5L376.1 349.9L376.6 347.5M317.2 353.9L317 353.3L317.2 353.1L317.5 353.3L317.2 353.9M380.4 353.5L379.2 352.7L378.9 353.5L379.2 353.8L380.4 353.5M388.5 374.5L385.4 374.5L385 374.3L385.4 374L388.5 374L388.6 374.3L388.5 374.5M326.8 377.1L326.5 376.5L325.4 377.1L326.5 378.2L326.8 377.1M381.6 383.2L379.1 382.6L378.3 383.2L379.1 383.8L381.6 383.2M391.2 392.2L389.2 389.2L388.4 387.9L387 389.2L385.6 392.2L388.4 393.2L391.2 392.2M367.4 398.1L366.7 397.8L363.9 395.1L363.6 394.7L360.5 394.5L359.9 395.1L360.2 398L360.5 398.8L363.6 400.7L366.7 399.2L367.4 398.1M317.2 398.2L317 397.9L317.2 397.8L317.5 397.9L317.2 398.2M384.4 401.1L382.2 398.3L379.1 398.4L377.3 401.1L379.1 401.7L382.2 402.3L384.4 401.1M371.5 445.6L369.8 442.9L366.7 445L364.8 442.7L366.5 439.7L365.5 436.7L366.7 435.5L367.9 436.7L369.8 437.8L372.9 437.8L373.8 436.7L376 434.2L376.3 433.8L376 433.2L375.5 433.8L372.9 435.8L369.8 435.6L367.8 433.7L366.7 432.7L365.3 430.8L364.9 427.8L366.7 425.7L367.6 424.8L367.8 421.8L366.7 419.8L363.6 419.8L362.4 418.9L363.6 418.1L366 415.9L364.6 412.9L363.6 411.1L362.7 409.9L363.6 408.2L364.9 407L366.7 405.8L367.8 404L366.7 402.2L363.6 401.3L361.8 404L360.5 404.9L357.4 406.4L356.2 407L355.5 409.9L355.1 412.9L357.4 415.7L359.4 412.9L360.5 411.6L362.2 412.9L361.9 415.9L360.5 417.8L359.6 418.9L359.1 421.8L360.5 423.7L362.2 424.8L360.7 427.8L360.5 428.1L358.7 430.7L359.6 433.7L357.4 436.2L356.6 436.7L355.7 439.7L354.3 441L352 442.6L351.2 444.4L348.1 443.5L345 444.4L343.8 445.6M353.1 406.9L351.2 406.2L349.4 406.9L351.2 407.7L353.1 406.9M377.9 407L376 405.7L374.2 407L376 409.7L377.9 407M384 407L382.2 405.8L380.1 407L382.2 408.1L384 407M395.2 407L394.6 406.6L394.2 407L394.6 407.6L395.2 407M371.2 410L369.8 409.1L369 410L369.8 410.7L371.2 410M390.9 418.9L390.9 416L389.8 413L388.4 411.2L385.3 412.4L382.8 413L385.3 413.4L388 415.9L387.8 418.9L388.4 420.1L390.9 418.9M381.9 415.9L379.1 415L376 415.3L375.2 415.9L376 416.2L379.1 416.5L381.9 415.9M401.1 421.9L402 419L401.1 416L400.8 414.8L399.6 416L397.7 417.8L396.5 418.9L397.7 419.3L400.4 421.9L400.8 422.7L401.1 421.9M373.3 421.9L372.9 421.5L372.5 421.9L372.9 422.3L373.3 421.9M384 430.8L382.2 429.5L380.3 430.8L382.2 431.7L384 430.8M392 433.8L391.5 433.3L391.1 433.8L391.5 434.3L392 433.8M387.1 439.7L385.3 437.9L383.4 439.7L385.3 440.6L387.1 439.7M377.9 445.7L376 444.2L374 445.6M393.6 445.7L391.5 444L388.6 445.7M354.4 333.6L353.7 332.6L354.4 331.9L355.3 332.6L354.4 333.6M345 440.7L344.2 439.6L341.9 437.9L340.1 439.6L338.8 442L336.3 439.6L335.7 439.4L332.6 439.2L329.9 436.6L329.5 436L329 436.6L326.4 439.1L324.1 436.6L324.1 433.6L326.4 431.2L327.4 430.7L326.4 429.9L324.2 427.7L323.3 426.7L321.2 424.7L323.4 422.2L326.4 423.9L328 421.8L329.5 419.7L330.3 418.8L329.6 417.2L328.3 418.8L326.5 420L324.6 418.8L326 415.8L326.5 415.5L329.2 412.8L329.6 412.6L331.9 409.9L332.7 408.5L335.1 406.9L335.8 405.7L336.1 403.9L335.8 403.7L332.7 403L331.6 400.9L332.7 400.3L334.2 398L332.7 396.3L329.6 396L328.3 395L326.5 393.6L325.1 392L326.5 389.4L327.1 389L326.5 387.3L326.2 386.1L325.2 383.1L326.5 381.9L326.7 380.1L327.6 377.1L326.5 375.1L324 374.2L323.4 372.4L320.3 371.4L320.1 371.2L320.3 370.9L323.4 370.6L324.4 368.2L324.4 365.2L324.3 362.3L323.7 359.3L323.4 358.8L322.2 356.3L323.4 354.9L325.3 353.3L326.5 351L326.9 350.4L328.7 347.4L329.6 346L332.7 345.3L333.3 344.4L332.7 343.8L329.6 342.8L329 341.4L329.6 340.8L332 338.5L332.7 337.8L335.8 336.9L338 335.5L338.9 334.7L342 333.2L345.1 333.9L346.6 335.6L348.2 337.8L349.7 338.5L351.3 339.1L352.1 338.5L354.4 336.7L356.4 338.6L357.5 339L360.6 340.1L361.8 341.6L363.7 344.2L364.3 344.5L363.7 345.7L363.5 347.5L363.7 347.9L365.5 347.5L366.8 346.9L369.3 344.5L366.8 343.7L365.1 341.6L366.8 338.9L367.1 338.6L369.9 336.6L373 338.4L374.2 338.6L373 339L372.1 341.6L373 343.5L374.1 344.6L374.3 347.5L375 350.5L373 353.2L372.7 353.5L373 353.8L373.4 353.5L376.1 352L377.4 353.5L379.2 355.4L380.7 356.5L380.9 359.4L381.5 362.4L382.3 364.4L384.4 365.4L382.3 366L379.2 366.4L378.1 365.4L376.9 362.4L376.1 361.3L373 361.7L372.1 362.4L372.1 365.4L369.9 367.5L366.8 367.4L365.8 368.3L366.8 369.4L369.9 369L372.7 371.3L373 372.2L376.1 371.9L379.2 373.5L379.8 374.3L379.8 377.3L379.2 378.5L377.9 377.3L376.1 376.7L373 375.7L369.9 376.6L369.3 377.3L369 380.2L369.9 381.8L370.7 383.2L373 384.7L375.1 386.2L375.3 389.2L376 390.7L378.2 392.1L378.1 395.1L376 396.9L373.2 395.1L372.9 394.5L372.6 395.1L369.8 397.7L366.7 396.8L364.9 395.1L366.7 393L369.4 392.1L366.7 390.2L364.6 389.1L366.8 388.1L368.4 386.2L366.8 384.6L365.5 383.2L363.7 381.7L362.8 383.2L363.7 383.9L366.2 386.2L363.7 389L360.6 389L359.9 389.1L360.6 389.5L363.6 390L364.7 392.1L363.6 392.8L360.5 393.4L358.4 395.1L358.5 398L357.4 400.4L354.3 400.8L353.4 401L353.4 404L351.2 404.6L348.1 405L345 406L342.4 403.9L342 403.7L341.6 403.9L342 404.4L344.1 406.9L345 407.9L348.1 409.5L351.2 409.3L352.7 409.9L351.7 412.9L354.3 414.2L355.8 415.9L357.4 418.6L357.6 418.8L357.6 421.8L357.4 423L357.1 424.8L356.1 427.8L355.8 430.7L354.3 432.5L352.7 433.7L351.2 435.1L349.6 436.7L348.1 437.5L345.9 439.6L345 440.7M351.3 336.2L351.1 335.6L351.3 335.3L351.7 335.6L351.3 336.2M379.2 343.3L376.1 342.6L375 341.6L376.1 339.5L378 338.6L379.2 338.5L379.8 338.6L381.3 341.6L379.2 343.3M379.2 348.1L378.9 347.6L379.2 347.2L379.4 347.6L379.2 348.1M376.1 371L373.3 368.3L376.1 366.5L378 368.4L376.1 371M388.4 383.8L385.3 383.5L385 383.2L382.7 380.3L385.4 379.3L386.9 380.3L388.4 383L388.7 383.3L388.4 383.8M382.2 390.9L379.1 390.4L378.5 389.2L379.1 388L382.2 386.7L384.3 389.2L382.2 390.9M391.5 390L390.9 389.2L391.5 388.2L393 389.2L391.5 390M388.4 398.7L387.2 398.1L388.4 396.9L389 398.1L388.4 398.7M397.7 398.4L397.4 398.1L397.7 397.5L398.1 398.1L397.7 398.4M350.2 401L348.2 399.9L347.3 401L348.1 402.9L350.2 401M391.5 409.1L390.1 407L389 404.1L390.9 401.1L391.5 400.5L392.1 401.1L394.6 403.5L394.9 404.1L394.6 404.3L392.2 407L391.5 409.1M403.9 401.4L403.3 401.1L403.9 400.5L404.1 401.1L403.9 401.4M382.2 404.2L379.1 405.5L377.3 404L379.1 403.1L382.2 403.9L382.8 404L382.2 404.2M400.8 405.5L399.6 404.1L400.8 402.3L402.1 404.1L400.8 405.5M369.8 407.2L369.4 407L369.8 405.8L370.2 407L369.8 407.2M369.8 414.3L366.7 413.3L366.5 412.9L365.6 409.9L366.7 408.9L367.3 410L369.8 412.3L372 412.9L369.8 414.3M382.2 410.8L380.8 410L382.2 409.5L384.4 410L382.2 410.8M403.9 417.4L402.8 416L403.5 413L402.2 410L403.9 407.9L406.6 410L405.1 413L405 416L403.9 417.4M350 412.9L348.1 411.1L347.7 412.9L348.1 413L350 412.9M379.1 413.2L377.9 413L379.1 412.4L379.4 413L379.1 413.2M394.6 415.4L392.1 413L394.6 410.3L397.1 413L394.6 415.4M335.9 415.8L335.7 414.9L335.1 415.8L335.7 416L335.9 415.8M385.3 418L384.4 415.9L385.3 415.2L386 415.9L385.3 418M372.9 425.4L369.8 425.2L369.6 424.8L369.3 421.8L369.4 418.9L369.8 418.3L372.9 417.5L376 417.6L379.1 417.8L382.2 418.6L383.5 418.9L382.2 420.1L379.1 421.4L378.5 421.9L376 423.7L374.9 421.9L372.9 419.6L370.5 421.9L372.9 424.6L373.5 424.8L372.9 425.4M407 423.3L403.9 423.8L402.4 421.9L403.9 420.1L406.6 419L407 418.7L407.2 419L407.5 421.9L407 423.3M385.3 422.7L383.1 421.9L385.3 419.8L386.4 421.9L385.3 422.7M394.6 426.1L394 424.9L392.8 421.9L394.6 420.2L397.7 420.9L398.8 421.9L397.7 424.3L395.8 424.9L394.6 426.1M382.2 425.4L381 424.8L382.2 423.7L382.5 424.9L382.2 425.4M366.7 429L366.5 427.8L366.7 427.6L367.1 427.8L366.7 429M382.2 437.8L379.1 438.8L376 437L375.8 436.7L376 436.5L377.6 433.8L379.1 431.9L382.2 433.6L385.3 432.7L388 430.8L388.4 430.5L391.5 430.4L392.1 430.8L391.5 431.1L389.1 433.8L388.4 435.2L385.3 434.8L383.3 436.7L382.2 437.8M357.4 434L356.8 433.7L357.4 433.3L357.6 433.7L357.4 434M372.9 433.9L371.7 433.7L372.9 433.5L373.1 433.8L372.9 433.9M397.7 434.6L394.6 434.4L394.3 433.8L394.6 433.2L397.7 431.7L398.3 433.8L397.7 434.6M391.5 438L390.9 436.8L391.5 436.5L392.1 436.8L391.5 438M329.5 440.5L327.7 439.6L329.5 437.8L331.4 439.6L329.5 440.5M394.6 440.8L392.4 439.7L394.6 438.4L395.7 439.7L394.6 440.8M332.6 442.8L332.4 442.6L332.6 442L332.9 442.6L332.6 442.8M341.9 444.3L339.3 442.6L341.9 441.2L343.7 442.6L341.9 444.3M366.7 443.5L366 442.7L366.7 441.5L367.9 442.7L366.7 443.5M376 442.8L372.9 443.3L372.6 442.7L372.9 441.5L376 442.4L376.4 442.7L376 442.8M388.4 443.5L385.3 443.1L384 442.7L385.3 442.5L388.4 441.7L389.8 442.7L388.4 443.5M400.8 443L400.4 442.7L400.8 442.4L400.9 442.7L400.8 443M345 403.7L342 402.1L340.3 401L339.9 398L338.9 397L336.2 395L335.9 392L335.8 391.9L332.7 391L330.1 389L329.6 388.7L327.3 386.1L328.6 383.1L328.4 380.1L328.4 377.1L327 374.2L326.8 371.2L326.6 368.2L326.5 367.6L325.9 365.2L326.5 364L327.4 362.3L326.5 360.5L325.7 359.3L326.5 356.9L326.8 356.3L329.6 354.5L330.3 353.4L329.6 351L329.2 350.4L329.6 349.8L332.7 348.4L333.2 347.4L335.8 344.8L338.9 345L339.4 344.5L338.9 343.4L336.5 341.5L338.9 339.5L341.4 338.5L342 337.6L344.2 335.5L345.1 335.3L345.3 335.6L347 338.5L348.2 339.2L351.3 340.3L354.1 338.6L354.4 338.3L354.7 338.6L357.5 339.7L360.2 341.5L357.5 344.4L356.3 344.5L357.5 344.7L357.9 344.5L360.6 342.6L361.9 344.5L362 347.5L360.6 350.2L357.5 350.3L357.4 350.5L357.5 350.8L360.6 350.7L363.4 353.4L363.7 353.7L364 353.5L364.9 350.5L366.8 350L367.3 350.5L369.9 352.2L371 353.5L373 356.1L373.9 356.5L376.1 358.5L377.9 359.4L376.1 359.7L373 360.1L370.2 362.4L370.2 365.4L369.9 365.7L366.8 366.3L364.9 368.3L366.8 370.5L369.9 370.6L370.7 371.3L371.1 374.3L369.9 375L368 377.2L367.1 380.2L366.8 381.1L364.9 380.2L363.7 380L362.4 380.2L361.9 383.2L363.7 384.6L365.4 386.2L363.7 388.1L360.6 387.9L357.5 388.3L357 389.1L357.5 391.2L360.6 391.7L361.2 392.1L360.5 392.3L357.5 393L355.3 395.1L356.6 398L354.3 399.4L352.8 398L351.3 396.8L348.6 398L348.2 398.3L346.2 401L345 403.7M335.8 339.4L335.2 338.5L335.8 338.3L336.4 338.5L335.8 339.4M369.9 342.9L366.8 341.9L366.6 341.6L366.8 341.2L369.1 338.6L369.9 338L370.9 338.6L370.8 341.6L369.9 342.9M373 351.6L371.6 350.5L373 347.9L373.8 350.5L373 351.6M368.9 362.4L366.8 361.8L366.2 362.4L366.8 363.2L368.9 362.4M379.2 364.2L378.1 362.4L379.2 359.7L380.3 362.4L379.2 364.2M376.1 368.7L375.7 368.4L376.1 368.1L376.3 368.4L376.1 368.7M332.7 377.2L332.7 377.1L332.5 377.2L332.7 377.3L332.7 377.2M372.9 390.7L370.5 389.1L372.9 386.8L373.7 389.2L372.9 390.7M326.5 392.2L326.3 392L326.5 391.7L327.4 392L326.5 392.2M345.3 395L345.1 394.8L344.9 395L345.1 395.2L345.3 395M369.8 395.5L366.7 395.8L366 395.1L366.7 394.2L369.8 394.6L370.2 395.1L369.8 395.5M376 395.6L375.2 395.1L376 393.9L376.7 395.1L376 395.6M335.8 402.1L334.1 400.9L335.6 398L335.8 396.2L336.7 398L337.4 401L335.8 402.1M338.9 404.5L338.5 403.9L338.9 403.3L339.2 403.9L338.9 404.5M338.8 439.3L335.7 437.8L332.6 438.3L330.9 436.6L329.5 434.6L327.7 436.6L326.4 437.8L325.3 436.6L325.3 433.6L326.4 432.5L329.5 431.1L329.6 430.7L329.5 430.5L326.4 428L326.1 427.7L326.4 427.1L327.7 424.7L329.5 422.1L332.6 421.9L332.7 421.8L332.6 421.2L331.9 418.8L332.6 417.2L335.7 417.1L336.8 415.8L338.2 412.9L335.7 411.1L334.5 409.9L335.8 408.9L338.8 409.3L339.3 409.9L339.5 412.9L341.9 413.9L344.8 415.8L345 415.9L345.2 415.8L348.1 413.8L351.1 415.9L350.8 418.8L351.2 419.2L353.8 421.8L354.3 423.6L355.2 424.8L354.3 427.2L354.1 427.8L353.8 430.7L351.2 432.9L350.6 433.7L348.1 436.1L345 436L341.9 436.4L341.6 436.7L338.8 439.3M403.9 410.5L403.7 410L403.9 409.7L404.3 410L403.9 410.5M394.6 414L393.6 413L394.6 411.9L395.6 413L394.6 414M403.9 422.2L403.7 421.9L403.9 421.7L404.5 421.9L403.9 422.2M379.1 434.4L378.9 433.8L379.1 433.5L379.6 433.8L379.1 434.4M351.3 395.3L348.2 396.1L347.2 395L345.1 392.5L343.6 395L342 397.4L339.5 395L338.9 394.5L337.1 392L338.9 389.2L338.9 389.1L338.9 389L338.7 389.1L335.8 390.2L332.7 389.9L331.6 389L332.7 387.7L333.4 386.1L332.7 384.9L330.5 383.1L330.5 380.1L332.7 378.9L333.2 377.2L332.7 376.3L330.5 377.1L329.6 378.9L329.2 377.1L328.5 374.2L327.6 371.2L327.8 368.2L327.2 365.2L328.9 362.3L327.2 359.3L329.6 356.4L329.6 356.3L331.3 353.4L332.1 350.4L332.7 350L334.1 347.4L335.8 345.6L338.9 345.8L340.2 344.5L338.9 341.8L338.5 341.5L338.9 341.1L342 340.4L345.1 338.6L348.2 340.2L351.2 341.5L351.3 341.6L353.7 344.5L354.4 345.6L357.5 346.1L360.4 347.5L357.5 348.9L357 350.5L357.3 353.4L357.5 353.7L359.3 353.4L360.6 353L361.1 353.4L363.7 355.9L366.2 356.4L366.8 356.7L368.2 359.4L366.8 360.2L364.5 362.4L366.6 365.4L363.9 368.3L365.8 371.3L366.5 374.3L366.6 377.2L363.7 378.4L360.6 378.3L359.9 380.2L360.6 382.1L361 383.2L363.7 385.3L364.6 386.2L363.7 387.3L360.6 386.9L357.7 386.1L357.5 386L357.4 386.1L355.7 389.1L355.8 392.1L354.4 393.5L351.9 395L351.3 395.3M357.5 343.4L354.4 343.4L351.4 341.5L354.4 339.6L357.5 340.3L359.3 341.5L357.5 343.4M329.6 387.6L328.2 386.1L329.6 383.9L331.6 386.1L329.6 387.6M345.1 400.8L342.9 398L345.1 396.8L346.5 398L345.1 400.8M338.8 438.4L336.1 436.6L335.7 436.5L334.8 436.6L332.6 437.3L331.9 436.6L330 433.7L330.3 430.7L329.5 428.6L328.4 427.7L329.5 425L329.6 424.7L332.6 422.9L333.7 421.8L334.3 418.8L335.7 418.3L337.7 415.8L338.8 414L341.9 415.5L342.4 415.8L345 416.7L346.3 415.8L348.1 414.6L349.9 415.9L349.6 418.8L351.2 420.1L352.9 421.8L353.6 424.8L352.2 427.8L352.3 430.7L351.2 431.7L349.7 433.7L348.1 435.3L345 435L341.9 435.6L340.7 436.7L338.8 438.4M354.4 389.1L351.3 391.6L349 389.1L348.2 388.1L347.5 389.1L345.1 391.2L342 391.6L340.2 389.1L338.9 387.7L335.8 388.6L334.3 386.1L332.7 383.5L332.2 383.1L332.7 381.6L333.4 380.1L333.6 377.2L332.7 375.5L330 374.2L329.6 373.7L328.5 371.2L329 368.2L328.6 365.2L329.6 363.5L330 362.3L329.6 361.1L328.6 359.3L329.6 358L330.4 356.3L332.4 353.4L332.7 352.6L334.5 350.4L334.9 347.4L335.8 346.5L338.9 346.6L341 344.5L342 342.3L343 341.5L345.1 340L348.2 341.2L348.8 341.5L351.3 342.6L352.8 344.5L354.4 346.8L357.5 347.5L357.5 347.5L357.5 347.5L356.6 350.5L356.8 353.4L357.5 354.5L360.3 356.4L360.6 357.2L362.9 359.4L362.9 362.4L363.7 364.3L364.3 365.3L363.7 366.1L363.2 368.3L360.6 371.3L362.4 374.3L360.6 376L359.3 377.2L359 380.2L358.5 383.2L357.5 383.8L355.9 386.1L354.4 389.1L354.4 389.1M357.5 342.3L354.4 342.2L353.4 341.5L354.4 340.9L357.5 341L358.3 341.5L357.5 342.3M329.6 386.6L329.1 386.1L329.6 385.3L330.3 386.1L329.6 386.6M363.7 386.4L362.1 386.2L363.7 386L363.9 386.2L363.7 386.4M338.9 392.9L338.2 392L338.9 391L340.9 392L338.9 392.9M348.2 393.6L346.9 392.1L348.2 390.6L350.2 392.1L348.2 393.6M342 395.5L341.4 395L342 393.5L342.3 395L342 395.5M338.8 437.6L337.4 436.6L335.7 436.1L332.6 435.9L331.5 433.7L330.9 430.7L329.8 427.7L331.3 424.7L332.6 423.9L334.7 421.8L335.7 419.8L336.4 418.8L338.6 415.8L338.8 415.5L339.6 415.8L341.6 418.8L341.9 419L342.4 418.8L345 417.5L347.5 415.9L348.1 415.4L348.8 415.9L348.4 418.8L348.1 419.6L347.5 421.8L348.1 422.5L349.7 421.8L351.2 421.1L351.9 421.8L352.3 424.8L351.2 426.6L350.5 427.8L350.7 430.7L348.8 433.7L348.1 434.4L345 434L341.9 434.7L339.8 436.7L338.8 437.6M345.1 341.7L345 341.5L345.1 341.4L345.3 341.5L345.1 341.7M351.3 389.7L350.7 389.1L348.2 386.2L347.9 386.1L345.1 385.6L342.6 383.1L342 382.7L339 380.1L338.9 379.8L335.8 380L334.1 377.2L332.7 374.6L331.7 374.2L329.6 371.8L329.3 371.2L329.6 370L332.4 368.2L332.7 367.6L332.8 365.3L332.7 365.1L330.6 362.3L332.7 359.9L333.3 359.3L332.7 358.5L331.2 356.3L332.7 354.2L333.4 353.4L335.8 350.9L336.1 350.4L335.8 347.7L335.8 347.4L335.8 347.4L338.9 347.4L341.7 344.5L342 344L342.9 344.5L345.1 345.1L348.2 346.1L349.6 344.5L351.3 343.6L352 344.5L352.5 347.5L354.4 347.8L356.1 350.5L356.3 353.4L357.5 355.3L359.1 356.4L360.3 359.4L360.6 360.2L361.4 362.4L361.9 365.3L362.5 368.3L360.6 370.5L358.6 371.3L359.7 374.3L357.5 376.4L357.4 377.2L357.5 377.8L358.2 380.2L357.5 381.8L355.3 383.2L354.4 386.1L354.4 386.3L352 389.1L351.3 389.7M345.1 390L342 389.7L341.5 389.1L338.9 386.5L335.8 387L335.2 386.1L333.4 383.1L335.8 380.4L338.9 380.4L341.1 383.1L342 384.1L344.3 386.1L345.1 387.5L346.2 389.1L345.1 390M338.8 436.7L338.8 436.6L335.7 435.6L332.8 433.7L332.6 433.3L331.6 430.7L330.4 427.7L332.6 424.9L332.9 424.7L335.7 421.8L335.7 421.7L337.5 418.8L338.8 417L340.3 418.8L341.9 419.9L344.1 418.8L345 418.4L346.4 418.8L346.6 421.8L348.1 423.4L350.9 424.8L349.2 427.8L348.7 430.7L348.1 432.5L345 432.8L342.9 433.7L341.9 433.9L338.9 436.7L338.8 436.7M348.2 384L345.1 385L343.3 383.1L342 382.2L339.5 380.1L338.9 377.9L335.8 379.2L334.5 377.2L333.9 374.2L333.5 371.2L334.3 368.2L333.3 365.3L332.7 364.1L331.3 362.3L332.7 360.7L334 359.3L332.7 357.3L332 356.3L332.7 355.3L334.4 353.4L335.8 351.9L336.6 350.4L338.9 348L339.8 347.4L342 345.2L345.1 346L347.6 347.5L348.2 347.8L351.3 348L354.4 348.5L355.7 350.5L355.8 353.4L357.5 356.1L357.9 356.4L359.2 359.4L360 362.4L360.1 365.3L360.6 365.9L361.8 368.3L360.6 369.8L357.5 371L357 371.3L357.2 374.2L357 377.2L354.4 380L354 380.2L351.3 382.6L349.3 383.1L348.2 384M338.9 385.1L335.8 385.4L334.4 383.1L335.8 381.5L338.9 381.5L340.2 383.1L338.9 385.1M342 388L340 386.1L342 385L343.2 386.1L342 388M351.3 388.1L349.4 386.1L351.3 384.1L353.1 386.1L351.3 388.1M338.8 435.9L335.7 435.2L333.4 433.7L332.6 431.7L332.2 430.7L331 427.7L332.6 425.6L334.1 424.7L335.7 423L336.4 421.8L338.7 418.8L338.8 418.6L339 418.8L341.9 420.8L345 419.8L345.8 421.8L348.1 424.2L349.2 424.8L348.1 427.2L348 427.7L346.5 430.7L345 431.5L341.9 433.3L341.4 433.7L338.8 435.9M345.1 384.3L343.9 383.1L342 381.8L340.1 380.1L339.4 377.2L338.9 376.9L336 374.2L335.8 373.4L334.7 371.2L335.8 368.5L335.9 368.2L335.8 368.2L333.9 365.3L332.7 363.2L332 362.3L332.7 361.5L334.8 359.3L332.9 356.3L335.4 353.4L335.8 352.9L337.2 350.4L338.9 348.6L340.8 347.4L342 346.2L345.1 346.9L346.1 347.5L348.2 348.7L351.3 348.7L354.4 349.1L355.3 350.5L355.3 353.4L357 356.4L357.5 358.2L358 359.4L358.5 362.4L359.1 365.3L360.6 367.1L361.2 368.3L360.6 369L357.5 370.5L356 371.3L356.6 374.2L356.6 377.2L354.4 379.6L353.1 380.2L351.3 381.8L348.2 382.1L347.3 383.1L345.1 384.3M335.8 378.5L335 377.2L335.8 374.7L338.1 377.2L335.8 378.5M338.9 383.7L335.8 383.8L335.4 383.1L335.8 382.6L338.9 382.6L339.3 383.1L338.9 383.7M342 386.4L341.7 386.1L342 385.9L342.1 386.1L342 386.4M351.3 386.7L350.7 386.1L351.3 385.5L351.8 386.1L351.3 386.7M338.8 435.2L335.7 434.8L334.1 433.7L333.1 430.7L332.6 430.2L331.5 427.7L332.6 426.3L335.2 424.7L335.7 424.2L337.2 421.8L338.8 419.6L341.9 421.6L343.8 421.8L345 421.9L347.9 424.8L347.5 427.7L345 430.5L344.8 430.7L341.9 432.9L340.5 433.7L338.8 435.2M342 348.6L341.8 347.4L342 347.2L343.2 347.4L342 348.6M351.3 381L348.2 380.5L346.9 380.2L345.1 379.9L344.7 380.2L342 381.3L340.6 380.1L340.2 377.2L338.9 376.4L336.5 374.2L335.9 371.2L336.6 368.2L335.8 367.3L334.4 365.3L335.8 362.3L335.8 362.3L335.8 361.8L335.6 359.3L334.5 356.3L335.8 354.7L336.6 353.4L337.7 350.4L338.9 349.2L341.6 350.4L342 350.7L343.8 350.4L345.1 349.2L348.2 349.6L351.3 349.5L354.4 349.8L354.8 350.5L354.8 353.4L356.1 356.4L355.8 359.4L357.1 362.4L354.4 364.7L354.1 365.3L354.4 365.6L356.1 365.3L357.5 363.5L358 365.3L360.5 368.3L357.5 370L354.9 371.3L356 374.2L356.2 377.2L354.4 379.1L352.2 380.2L351.3 381M335.8 377.7L335.4 377.2L335.8 376.1L336.7 377.2L335.8 377.7M345.1 383.6L344.6 383.1L345.1 381L346 383.1L345.1 383.6M338.8 434.4L335.7 434.3L334.7 433.7L334.4 430.7L332.6 429L332.1 427.7L332.6 427L335.7 425.1L336.2 424.7L337.9 421.8L338.8 420.6L340.7 421.8L341.9 422.3L345 422.6L347.1 424.8L347 427.7L345 429.9L344.1 430.7L341.9 432.4L339.7 433.7L338.8 434.4M342 380.9L341.1 380.1L341.1 377.2L338.9 375.9L337 374.2L338.9 371.2L337.3 368.2L335.8 366.5L334.9 365.3L335.8 363.5L336.4 362.3L337.6 359.3L337.3 356.3L338.1 353.4L338.3 350.4L338.9 349.8L340.3 350.4L342 351.6L344.8 353.4L345.1 353.6L348.2 353.9L349.2 353.4L348.2 350.4L348.2 350.4L348.2 350.4L351.3 350.2L354.4 350.4L354.4 350.4L354.4 350.5L353.9 353.4L354.4 354L355.3 356.4L354.4 358.4L354.1 359.4L354.4 360.2L355.9 362.3L354.4 363.7L353.7 365.3L354.4 366.1L357.5 365.9L359.5 368.3L357.5 369.4L354.4 371L354.1 371.3L354.4 371.9L355.5 374.2L355.8 377.2L354.4 378.7L351.5 377.2L351.3 376.6L350.9 377.2L348.2 379.4L345.1 379L343.7 380.2L342 380.9M351.3 380.2L351.3 380.2L351.3 380.2L351.3 380.2L351.3 380.2M338.8 433.7L335.7 433.9L335.4 433.7L335.7 430.7L332.6 427.7L332.6 427.7L332.6 427.7L335.7 425.7L336.9 424.7L338.6 421.8L338.8 421.5L339.2 421.8L341.9 422.9L345 423.4L346.4 424.8L346.4 427.7L345 429.3L343.5 430.7L341.9 431.9L338.8 433.7L338.8 433.7M338.9 350.7L338.9 350.4L338.9 350.4L339 350.4L338.9 350.7M342 380.4L341.7 380.2L341.9 377.2L338.9 375.5L337.5 374.2L338.9 372L341.8 371.2L338.9 369.8L338.1 368.2L335.8 365.7L335.5 365.3L335.8 364.6L337.1 362.3L338.9 359.7L339.4 359.3L339.8 356.4L339.8 353.4L342 352.4L343.4 353.4L345.1 354.6L348.2 354.6L350.5 353.4L351.3 352.1L352.3 353.4L354.4 356.3L354.4 356.4L354.4 356.5L353.7 359.4L354.4 361.8L354.8 362.3L354.4 362.7L353.3 365.3L354.4 366.5L357.5 367L358.6 368.3L357.5 368.9L354.4 370.4L353.5 371.3L354.4 373.2L354.9 374.2L355.3 377.2L354.4 378.3L352.3 377.2L351.3 374.4L349.6 377.2L348.2 378.3L345.1 378.2L342.6 380.2L342 380.4M341.9 431.4L338.8 432.7L336.8 430.7L335.7 429.8L333.6 427.7L335.7 426.4L337.6 424.8L338.8 422.7L341.9 423.5L345 424.1L345.7 424.8L345.9 427.7L345 428.7L342.8 430.7L341.9 431.4M348.2 377.3L345.1 377.3L344.7 377.2L342.3 374.2L343.4 371.2L342.2 368.3L342.5 365.3L342.4 362.3L342 361.6L340.5 359.3L341.2 356.4L341.8 353.4L342 353.3L342.1 353.4L345.1 355.5L348.2 355.3L351.3 355.8L351.6 356.4L353.2 359.4L353.2 362.3L352.9 365.3L354.4 367L357.5 368.2L357.6 368.3L357.5 368.4L354.4 369.8L353 371.3L351.3 373.5L348.3 371.2L348.2 371.1L347.8 371.2L348.2 371.4L350.5 374.2L348.3 377.2L348.2 377.3M338.9 368.4L338.8 368.2L336.3 365.3L337.7 362.3L338.9 360.6L341.4 362.3L341.4 365.3L339.3 368.2L338.9 368.4M338.9 375L338 374.2L338.9 372.8L341.7 374.2L338.9 375M354.4 377.8L353.2 377.2L354.4 374.5L354.9 377.2L354.4 377.8M341.9 430.9L338.8 431.6L337.9 430.7L335.7 428.8L334.6 427.7L335.7 427L338.4 424.8L338.8 424L341.9 424.1L344.7 424.8L345 425.4L345.4 427.7L345 428.1L342.2 430.7L341.9 430.9M348.2 376.2L345.1 374.7L344.7 374.2L344.8 371.2L342.6 368.3L343.6 365.3L343.4 362.3L342 360L341.5 359.3L342 357.7L345.1 356.5L345.5 356.4L348.2 355.9L349.5 356.4L351.3 357.1L352.7 359.4L351.6 362.3L352.5 365.3L354.4 367.5L356.4 368.3L354.4 369.3L352.4 371.3L351.3 372.8L349.3 371.2L348.2 370.5L345.5 371.2L348.2 372.4L349.6 374.2L348.2 376.2M338.9 366.8L337.6 365.3L338.3 362.3L338.9 361.5L340.1 362.3L340.1 365.3L338.9 366.8M350.8 362.3L348.2 360.7L347.1 362.3L348.2 362.8L350.8 362.3M338.9 374.5L338.5 374.2L338.9 373.6L340 374.2L338.9 374.5M354.4 377.4L354 377.2L354.4 376.4L354.5 377.2L354.4 377.4M341.9 425.7L341 424.8L341.9 424.7L342.3 424.8L341.9 425.7M338.8 430.6L335.7 427.9L335.6 427.7L335.7 427.6L338.8 425L341.7 427.7L338.8 430.6M351.3 372L350.3 371.3L348.2 369.8L345.1 370.9L342.9 368.3L344.8 365.3L344.4 362.3L343.3 359.3L345.1 358.1L347.3 359.3L346 362.3L348.2 363.3L351.3 363.2L352.1 365.3L354.4 367.9L355.2 368.3L354.4 368.7L351.8 371.3L351.3 372M351.3 361.5L348.6 359.4L351.3 357.8L352.3 359.4L351.3 361.5M348.2 375.1L346.7 374.2L348.2 373.5L348.8 374.2L348.2 375.1M338.8 429.9L336.4 427.7L338.8 425.7L341 427.7L338.8 429.9M351.3 360.4L349.9 359.4L351.3 358.6L351.8 359.4L351.3 360.4M348.2 369.2L345.1 370.4L343.3 368.3L345.1 365.7L345.7 365.3L348.2 363.7L351.3 364.2L351.7 365.3L351.3 367L350.1 368.3L348.2 369.2M351.3 371.3L351.3 371.3L351.3 371.2L351.3 371.3L351.3 371.3M338.8 429.2L337.2 427.7L338.8 426.3L340.3 427.7L338.8 429.2M351.3 359.4L351.2 359.4L351.3 359.3L351.3 359.4L351.3 359.4M348.2 368.5L345.1 370L343.6 368.3L345.1 366.2L346.5 365.3L348.2 364.2L351.3 365.3L351.3 365.3L351.3 365.4L348.7 368.3L348.2 368.5M338.8 428.5L338 427.7L338.8 427L339.6 427.7L338.8 428.5M348.2 367.2L347.3 365.3L348.2 364.7L349.9 365.3L348.2 367.2M345.1 369.6L344 368.3L345.1 366.7L347.6 368.3L345.1 369.6M338.8 427.8L338.8 427.7L338.8 427.7L338.9 427.7L338.8 427.8M348.2 365.6L348.1 365.3L348.2 365.2L348.4 365.3L348.2 365.6M345.1 369.1L344.4 368.3L345.1 367.2L346.8 368.3L345.1 369.1M345.1 368.7L344.7 368.3L345.1 367.7L345.9 368.3L345.1 368.7" stroke="#000" stroke-width="1.1" fill="none" stroke-linejoin="round"/>
<path d="M86.7 133.2h1.2v0.3h-1.2zM80.3 151.3L81.5 150.1L82.7 151.3L81.5 152.5ZM86 153.4L87 152.4L88 153.4L87 154.4ZM92.8 153.8L93.8 152.8L94.8 153.8L93.8 154.8ZM83.5 159.6L84.5 158.6L85.5 159.6L84.5 160.6ZM72.5 172h3M83.5 172L86 169.8L90.5 170.5L88.5 173.5L85.5 174ZM90.5 170.5L97.5 165.5L101 170M221.9 90.3h1.2v0.3h-1.2zM180.4 112.3h1.2v0.3h-1.2zM361.4 128.3h1.2v0.3h-1.2zM361.4 133.8h1.2v0.3h-1.2zM359.5 152h2.5M348.8 158.5L360 158.3L358.8 168.3L354.5 165.2L353 163L356 160.3M341 165.8L342.6 164.2L344.2 165.8L342.6 167.4ZM344 167L345.5 174.5L339.5 173M345.5 174.5L350 179.2M348 161.5L348.5 168L352 172.5L349 175M335.7 166.8h1.2v0.3h-1.2zM335.7 178.8h1.2v0.3h-1.2zM361.4 173.2h1.2v0.3h-1.2zM383.9 169.8h1.2v0.3h-1.2zM387.4 163.8h1.2v0.3h-1.2zM391.4 355.9h1.2v0.3h-1.2zM397.4 370.9h1.2v0.3h-1.2zM415.4 371.9h1.2v0.3h-1.2zM420.4 375.9h1.2v0.3h-1.2zM422.4 391.9h1.2v0.3h-1.2zM407.4 385.9h1.2v0.3h-1.2zM411.4 395.9h1.2v0.3h-1.2zM425.4 436.9h1.2v0.3h-1.2zM420.4 427.9h1.2v0.3h-1.2zM429.4 442.9h1.2v0.3h-1.2zM436.4 380.9h1.2v0.3h-1.2zM313.4 359.9h1.2v0.3h-1.2zM185.4 360.9h1.2v0.3h-1.2zM192.4 362.9h1.2v0.3h-1.2zM195.4 378.9h1.2v0.3h-1.2zM189.4 404.9h1.2v0.3h-1.2zM69.4 383.9h1.2v0.3h-1.2zM175.4 355.9h1.2v0.3h-1.2z" stroke="#000" stroke-width="1" fill="none" stroke-linejoin="round"/>
<path d="M207.1 22.2V65.8M171 43.4H243" stroke="#000" stroke-width="1.6" fill="none"/>
<text class="pc" x="175.5" y="36" textLength="27.3" lengthAdjust="spacingAndGlyphs">0.5%</text>
<text class="pc" x="175.5" y="57.5" textLength="27.3" lengthAdjust="spacingAndGlyphs">0.8%</text>
<text class="pc" x="210.6" y="36" textLength="34.0" lengthAdjust="spacingAndGlyphs">81.2%</text>
<text class="pc" x="210.6" y="57.5" textLength="34.0" lengthAdjust="spacingAndGlyphs">17.5%</text>
<path d="M461.1 22.5V66M424.5 43.9H497.5" stroke="#000" stroke-width="1.6" fill="none"/>
<text class="pc" x="429.5" y="36.5" textLength="27.3" lengthAdjust="spacingAndGlyphs">0.7%</text>
<text class="pc" x="429.5" y="58" textLength="27.3" lengthAdjust="spacingAndGlyphs">2.5%</text>
<text class="pc" x="464.6" y="36.5" textLength="34.0" lengthAdjust="spacingAndGlyphs">50.2%</text>
<text class="pc" x="464.6" y="58" textLength="34.0" lengthAdjust="spacingAndGlyphs">46.6%</text>
<path d="M206.7 266.5V310M170.5 288.0H243.5" stroke="#000" stroke-width="1.6" fill="none"/>
<text class="pc" x="168.4" y="280.6" textLength="34.0" lengthAdjust="spacingAndGlyphs">72.8%</text>
<text class="pc" x="175.1" y="302.1" textLength="27.3" lengthAdjust="spacingAndGlyphs">7.7%</text>
<text class="pc" x="210.2" y="280.6" textLength="34.0" lengthAdjust="spacingAndGlyphs">12.1%</text>
<text class="pc" x="210.2" y="302.1" textLength="27.3" lengthAdjust="spacingAndGlyphs">7.5%</text>
<path d="M460.5 267.2V310.7M424 288.9H496.5" stroke="#000" stroke-width="1.6" fill="none"/>
<text class="pc" x="422.2" y="281.5" textLength="34.0" lengthAdjust="spacingAndGlyphs">71.2%</text>
<text class="pc" x="422.2" y="303" textLength="34.0" lengthAdjust="spacingAndGlyphs">20.4%</text>
<text class="pc" x="464" y="281.5" textLength="27.3" lengthAdjust="spacingAndGlyphs">5.9%</text>
<text class="pc" x="464" y="303" textLength="27.3" lengthAdjust="spacingAndGlyphs">2.5%</text>
<text class="lin" x="222" y="9.1" textLength="35.6" lengthAdjust="spacingAndGlyphs">5% Lin</text>
<text class="lin" x="480" y="10.2" textLength="35.8" lengthAdjust="spacingAndGlyphs">5% Lin</text>
<text class="lin" x="228.5" y="254" textLength="36.6" lengthAdjust="spacingAndGlyphs">5% Lin</text>
<text class="lin" x="477" y="254.7" textLength="36.2" lengthAdjust="spacingAndGlyphs">5% Lin</text>
<circle cx="22.35" cy="28.8" r="17.25" fill="none" stroke="#000" stroke-width="2.1"/>
<text class="big" transform="translate(22.65 37.2) scale(0.9 1)" text-anchor="middle">A</text>
<circle cx="21.7" cy="273.9" r="17.25" fill="none" stroke="#000" stroke-width="2.1"/>
<text class="big" transform="translate(22.55 283.8) scale(0.9 1)" text-anchor="middle">B</text>
<text class="ax" transform="translate(31.0 152.6) rotate(-90)" textLength="79.6" lengthAdjust="spacingAndGlyphs">anti-CD4-PE</text>
<text class="arw" transform="translate(31.8 73.0) rotate(-90)" >→</text>
<text class="ax" transform="translate(30.1 398.0) rotate(-90)" textLength="78.4" lengthAdjust="spacingAndGlyphs">anti-CD4-PE</text>
<text class="arw" transform="translate(31.4 318.8) rotate(-90)" >→</text>
<text class="ax" x="166.2" y="233.2" textLength="214.8" lengthAdjust="spacingAndGlyphs">anti-CD34-biotin + streptavidin-TC</text>
<text class="arw" x="380" y="235">→</text>
<text class="ax" x="223.1" y="477.6" textLength="98.6" lengthAdjust="spacingAndGlyphs">anti-CD34-FITC</text>
<text class="arw" x="322" y="479.3">→</text>
<path d="M46.2 481.3V489.3H257V481.8" stroke="#000" stroke-width="2.1" fill="none"/>
<path d="M302.3 483V491.1L513 491.7V484.8" stroke="#000" stroke-width="2.1" fill="none"/>
<text class="bl" x="44.5" y="503.8" textLength="214.5" lengthAdjust="spacingAndGlyphs">CD4<tspan class="sp" dy="-3.6">+</tspan><tspan dy="3.6"> CD34</tspan><tspan class="sp" dy="-3.6">++</tspan><tspan dy="3.6"> CD38</tspan><tspan class="sp" dy="-3.6">-</tspan><tspan dy="3.6"> LDFL Cells</tspan></text>
<text class="bl" x="301.5" y="505" textLength="211.5" lengthAdjust="spacingAndGlyphs">CD4<tspan class="sp" dy="-3.6">-</tspan><tspan dy="3.6"> CD34</tspan><tspan class="sp" dy="-3.6">++</tspan><tspan dy="3.6"> CD38</tspan><tspan class="sp" dy="-3.6">-</tspan><tspan dy="3.6"> LDFL Cells</tspan></text>
</svg></body></html>
